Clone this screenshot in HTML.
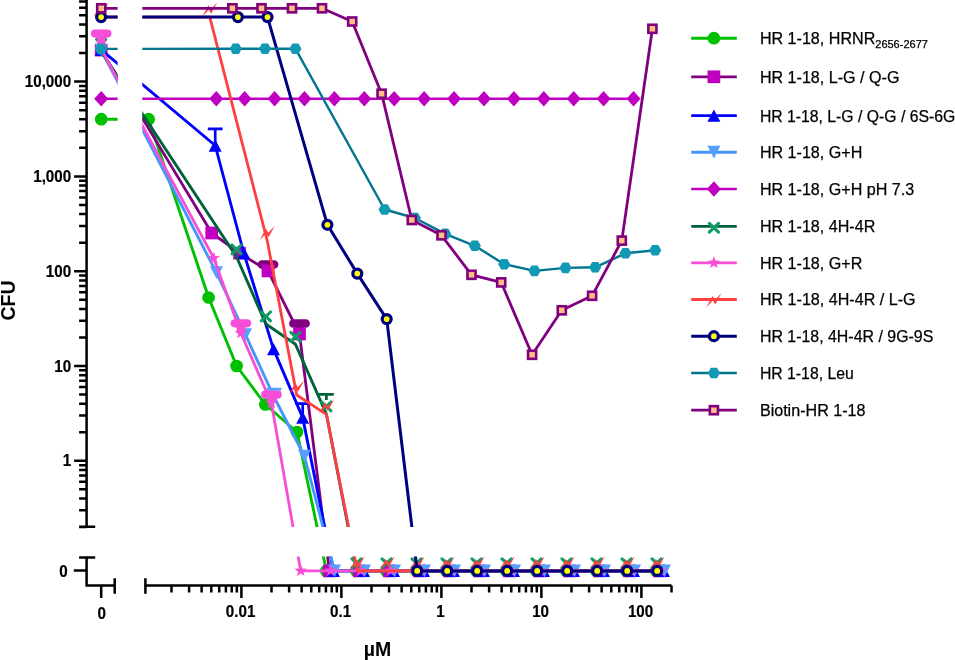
<!DOCTYPE html><html><head><meta charset="utf-8"><style>html,body{margin:0;padding:0;background:#fff;}svg{display:block;}</style></head><body><svg style="will-change:transform" width="955" height="660" viewBox="0 0 955 660"><path d="M86.6,-5V526.8 M79.1,526.8H95.2 M79.1,527.06H86.6 M79.1,510.37H86.6 M79.1,498.52H86.6 M79.1,489.34H86.6 M79.1,481.83H86.6 M79.1,475.48H86.6 M79.1,469.99H86.6 M79.1,465.14H86.6 M74.1,460.80H86.6 M79.1,432.26H86.6 M79.1,415.57H86.6 M79.1,403.72H86.6 M79.1,394.54H86.6 M79.1,387.03H86.6 M79.1,380.68H86.6 M79.1,375.19H86.6 M79.1,370.34H86.6 M74.1,366.00H86.6 M79.1,337.46H86.6 M79.1,320.77H86.6 M79.1,308.92H86.6 M79.1,299.74H86.6 M79.1,292.23H86.6 M79.1,285.88H86.6 M79.1,280.39H86.6 M79.1,275.54H86.6 M74.1,271.20H86.6 M79.1,242.66H86.6 M79.1,225.97H86.6 M79.1,214.12H86.6 M79.1,204.94H86.6 M79.1,197.43H86.6 M79.1,191.08H86.6 M79.1,185.59H86.6 M79.1,180.74H86.6 M74.1,176.40H86.6 M79.1,147.86H86.6 M79.1,131.17H86.6 M79.1,119.32H86.6 M79.1,110.14H86.6 M79.1,102.63H86.6 M79.1,96.28H86.6 M79.1,90.79H86.6 M79.1,85.94H86.6 M74.1,81.60H86.6 M79.1,53.06H86.6 M79.1,36.37H86.6 M79.1,24.52H86.6 M79.1,15.34H86.6 M79.1,7.83H86.6 M79.1,1.48H86.6 M79.1,-4.01H86.6 M86.6,557.5V585.4 M79.1,557.5H95.2 M73.8,570.6H86.6 M85.35,585.4H114.7 M114.7,578.3V593.8 M101.2,585.4V598 M145.4,585.4H671.5 M145.4,578.3V593.8 M171.50,585.4V592.6 M189.11,585.4V592.6 M201.61,585.4V592.6 M211.30,585.4V592.6 M219.22,585.4V592.6 M225.91,585.4V592.6 M231.71,585.4V592.6 M236.82,585.4V592.6 M241.40,585.4V598 M271.50,585.4V592.6 M289.11,585.4V592.6 M301.61,585.4V592.6 M311.30,585.4V592.6 M319.22,585.4V592.6 M325.91,585.4V592.6 M331.71,585.4V592.6 M336.82,585.4V592.6 M341.40,585.4V598 M371.50,585.4V592.6 M389.11,585.4V592.6 M401.61,585.4V592.6 M411.30,585.4V592.6 M419.22,585.4V592.6 M425.91,585.4V592.6 M431.71,585.4V592.6 M436.82,585.4V592.6 M441.40,585.4V598 M471.50,585.4V592.6 M489.11,585.4V592.6 M501.61,585.4V592.6 M511.30,585.4V592.6 M519.22,585.4V592.6 M525.91,585.4V592.6 M531.71,585.4V592.6 M536.82,585.4V592.6 M541.40,585.4V598 M571.50,585.4V592.6 M589.11,585.4V592.6 M601.61,585.4V592.6 M611.30,585.4V592.6 M619.22,585.4V592.6 M625.91,585.4V592.6 M631.71,585.4V592.6 M636.82,585.4V592.6 M641.40,585.4V598 M671.50,585.4V592.6" stroke="#000" stroke-width="2.5" fill="none"/>
<text transform="translate(71.2,466.4) scale(0.95,1)" text-anchor="end" font-family="Liberation Sans" font-weight="bold" font-size="16" fill="#000" stroke="#000" stroke-width="0.2">1</text>
<text transform="translate(71.2,371.6) scale(0.95,1)" text-anchor="end" font-family="Liberation Sans" font-weight="bold" font-size="16" fill="#000" stroke="#000" stroke-width="0.2">10</text>
<text transform="translate(71.2,276.8) scale(0.95,1)" text-anchor="end" font-family="Liberation Sans" font-weight="bold" font-size="16" fill="#000" stroke="#000" stroke-width="0.2">100</text>
<text transform="translate(71.2,182.0) scale(0.95,1)" text-anchor="end" font-family="Liberation Sans" font-weight="bold" font-size="16" fill="#000" stroke="#000" stroke-width="0.2">1,000</text>
<text transform="translate(71.2,87.2) scale(0.95,1)" text-anchor="end" font-family="Liberation Sans" font-weight="bold" font-size="16" fill="#000" stroke="#000" stroke-width="0.2">10,000</text>
<text transform="translate(67.8,577.2) scale(0.95,1)" text-anchor="end" font-family="Liberation Sans" font-weight="bold" font-size="16" fill="#000" stroke="#000" stroke-width="0.2">0</text>
<text transform="translate(101.7,619) scale(0.95,1)" text-anchor="middle" font-family="Liberation Sans" font-weight="bold" font-size="16" fill="#000" stroke="#000" stroke-width="0.2">0</text>
<text transform="translate(240.6,616.5) scale(0.95,1)" text-anchor="middle" font-family="Liberation Sans" font-weight="bold" font-size="16" fill="#000" stroke="#000" stroke-width="0.2">0.01</text>
<text transform="translate(340.6,616.5) scale(0.95,1)" text-anchor="middle" font-family="Liberation Sans" font-weight="bold" font-size="16" fill="#000" stroke="#000" stroke-width="0.2">0.1</text>
<text transform="translate(440.6,616.5) scale(0.95,1)" text-anchor="middle" font-family="Liberation Sans" font-weight="bold" font-size="16" fill="#000" stroke="#000" stroke-width="0.2">1</text>
<text transform="translate(540.6,616.5) scale(0.95,1)" text-anchor="middle" font-family="Liberation Sans" font-weight="bold" font-size="16" fill="#000" stroke="#000" stroke-width="0.2">10</text>
<text transform="translate(640.6,616.5) scale(0.95,1)" text-anchor="middle" font-family="Liberation Sans" font-weight="bold" font-size="16" fill="#000" stroke="#000" stroke-width="0.2">100</text>
<text transform="translate(14.5,300.5) rotate(-90)" text-anchor="middle" font-family="Liberation Sans" font-weight="bold" font-size="19.5">CFU</text>
<text x="377.4" y="656.2" text-anchor="middle" font-family="Liberation Sans" font-weight="bold" font-size="19.5">µM</text>
<defs><clipPath id="clipL"><rect x="60" y="-20" width="57.6" height="547"/></clipPath><clipPath id="clipM"><rect x="142.3" y="-20" width="600" height="547"/></clipPath><clipPath id="clipB"><rect x="142.3" y="556.5" width="600" height="40"/></clipPath></defs>
<g clip-path="url(#clipL)">
<path d="M101.20,119.20 L148.60,119.20 L208.60,297.50 L236.60,366.00 L265.30,404.50 L297.00,432.00 L326.40,570.90 L356.40,570.90 L386.40,570.90 L416.40,570.90 L446.40,570.90 L476.40,570.90 L506.40,570.90 L536.40,570.90 L566.40,570.90 L596.40,570.90 L626.40,570.90 L656.40,570.90" stroke="#00c000" stroke-width="2.9" fill="none" stroke-linejoin="round"/>
<circle cx="101.2" cy="119.2" r="6.35" fill="#00c000"/>
<circle cx="148.6" cy="119.2" r="6.35" fill="#00c000"/>
<circle cx="208.6" cy="297.5" r="6.35" fill="#00c000"/>
<circle cx="236.6" cy="366.0" r="6.35" fill="#00c000"/>
<circle cx="265.3" cy="404.5" r="6.35" fill="#00c000"/>
<circle cx="297.0" cy="432.0" r="6.35" fill="#00c000"/>
<circle cx="326.4" cy="570.9" r="6.35" fill="#00c000"/>
<circle cx="356.4" cy="570.9" r="6.35" fill="#00c000"/>
<circle cx="386.4" cy="570.9" r="6.35" fill="#00c000"/>
<circle cx="416.4" cy="570.9" r="6.35" fill="#00c000"/>
<circle cx="446.4" cy="570.9" r="6.35" fill="#00c000"/>
<circle cx="476.4" cy="570.9" r="6.35" fill="#00c000"/>
<circle cx="506.4" cy="570.9" r="6.35" fill="#00c000"/>
<circle cx="536.4" cy="570.9" r="6.35" fill="#00c000"/>
<circle cx="566.4" cy="570.9" r="6.35" fill="#00c000"/>
<circle cx="596.4" cy="570.9" r="6.35" fill="#00c000"/>
<circle cx="626.4" cy="570.9" r="6.35" fill="#00c000"/>
<circle cx="656.4" cy="570.9" r="6.35" fill="#00c000"/>
</g>
<g clip-path="url(#clipM)">
<path d="M101.20,119.20 L148.60,119.20 L208.60,297.50 L236.60,366.00 L265.30,404.50 L297.00,432.00 L326.40,570.90 L356.40,570.90 L386.40,570.90 L416.40,570.90 L446.40,570.90 L476.40,570.90 L506.40,570.90 L536.40,570.90 L566.40,570.90 L596.40,570.90 L626.40,570.90 L656.40,570.90" stroke="#00c000" stroke-width="2.9" fill="none" stroke-linejoin="round"/>
<circle cx="101.2" cy="119.2" r="6.35" fill="#00c000"/>
<circle cx="148.6" cy="119.2" r="6.35" fill="#00c000"/>
<circle cx="208.6" cy="297.5" r="6.35" fill="#00c000"/>
<circle cx="236.6" cy="366.0" r="6.35" fill="#00c000"/>
<circle cx="265.3" cy="404.5" r="6.35" fill="#00c000"/>
<circle cx="297.0" cy="432.0" r="6.35" fill="#00c000"/>
<circle cx="326.4" cy="570.9" r="6.35" fill="#00c000"/>
<circle cx="356.4" cy="570.9" r="6.35" fill="#00c000"/>
<circle cx="386.4" cy="570.9" r="6.35" fill="#00c000"/>
<circle cx="416.4" cy="570.9" r="6.35" fill="#00c000"/>
<circle cx="446.4" cy="570.9" r="6.35" fill="#00c000"/>
<circle cx="476.4" cy="570.9" r="6.35" fill="#00c000"/>
<circle cx="506.4" cy="570.9" r="6.35" fill="#00c000"/>
<circle cx="536.4" cy="570.9" r="6.35" fill="#00c000"/>
<circle cx="566.4" cy="570.9" r="6.35" fill="#00c000"/>
<circle cx="596.4" cy="570.9" r="6.35" fill="#00c000"/>
<circle cx="626.4" cy="570.9" r="6.35" fill="#00c000"/>
<circle cx="656.4" cy="570.9" r="6.35" fill="#00c000"/>
</g>
<g clip-path="url(#clipB)">
<path d="M101.20,119.20 L148.60,119.20 L208.60,297.50 L236.60,366.00 L265.30,404.50 L297.00,432.00 L326.40,570.90 L356.40,570.90 L386.40,570.90 L416.40,570.90 L446.40,570.90 L476.40,570.90 L506.40,570.90 L536.40,570.90 L566.40,570.90 L596.40,570.90 L626.40,570.90 L656.40,570.90" stroke="#00c000" stroke-width="2.9" fill="none" stroke-linejoin="round"/>
<circle cx="101.2" cy="119.2" r="6.35" fill="#00c000"/>
<circle cx="148.6" cy="119.2" r="6.35" fill="#00c000"/>
<circle cx="208.6" cy="297.5" r="6.35" fill="#00c000"/>
<circle cx="236.6" cy="366.0" r="6.35" fill="#00c000"/>
<circle cx="265.3" cy="404.5" r="6.35" fill="#00c000"/>
<circle cx="297.0" cy="432.0" r="6.35" fill="#00c000"/>
<circle cx="326.4" cy="570.9" r="6.35" fill="#00c000"/>
<circle cx="356.4" cy="570.9" r="6.35" fill="#00c000"/>
<circle cx="386.4" cy="570.9" r="6.35" fill="#00c000"/>
<circle cx="416.4" cy="570.9" r="6.35" fill="#00c000"/>
<circle cx="446.4" cy="570.9" r="6.35" fill="#00c000"/>
<circle cx="476.4" cy="570.9" r="6.35" fill="#00c000"/>
<circle cx="506.4" cy="570.9" r="6.35" fill="#00c000"/>
<circle cx="536.4" cy="570.9" r="6.35" fill="#00c000"/>
<circle cx="566.4" cy="570.9" r="6.35" fill="#00c000"/>
<circle cx="596.4" cy="570.9" r="6.35" fill="#00c000"/>
<circle cx="626.4" cy="570.9" r="6.35" fill="#00c000"/>
<circle cx="656.4" cy="570.9" r="6.35" fill="#00c000"/>
</g>
<g clip-path="url(#clipL)">
<path d="M101.20,50.10 L211.70,233.00 L239.50,253.20 L268.00,270.90 L299.50,334.00 L329.40,570.90 L359.40,570.90 L389.40,570.90 L419.40,570.90 L449.40,570.90 L479.40,570.90 L509.40,570.90 L539.40,570.90 L569.40,570.90 L599.40,570.90 L629.40,570.90 L659.40,570.90" stroke="#800080" stroke-width="2.8" fill="none" stroke-linejoin="round"/>
<rect x="263.75" y="264.40" width="8.5" height="6.50" fill="#800080"/><rect x="257.60" y="260.15" width="20.8" height="8.5" rx="4.25" fill="#800080"/>
<rect x="295.25" y="323.60" width="8.5" height="10.40" fill="#800080"/><rect x="289.10" y="319.35" width="20.8" height="8.5" rx="4.25" fill="#800080"/>
<rect x="94.85" y="43.75" width="12.7" height="12.7" fill="#c000c0"/>
<rect x="205.35" y="226.65" width="12.7" height="12.7" fill="#c000c0"/>
<rect x="233.15" y="246.85" width="12.7" height="12.7" fill="#c000c0"/>
<rect x="261.65" y="264.55" width="12.7" height="12.7" fill="#c000c0"/>
<rect x="293.15" y="327.65" width="12.7" height="12.7" fill="#c000c0"/>
<rect x="323.05" y="564.55" width="12.7" height="12.7" fill="#c000c0"/>
<rect x="353.05" y="564.55" width="12.7" height="12.7" fill="#c000c0"/>
<rect x="383.05" y="564.55" width="12.7" height="12.7" fill="#c000c0"/>
<rect x="413.05" y="564.55" width="12.7" height="12.7" fill="#c000c0"/>
<rect x="443.05" y="564.55" width="12.7" height="12.7" fill="#c000c0"/>
<rect x="473.05" y="564.55" width="12.7" height="12.7" fill="#c000c0"/>
<rect x="503.05" y="564.55" width="12.7" height="12.7" fill="#c000c0"/>
<rect x="533.05" y="564.55" width="12.7" height="12.7" fill="#c000c0"/>
<rect x="563.05" y="564.55" width="12.7" height="12.7" fill="#c000c0"/>
<rect x="593.05" y="564.55" width="12.7" height="12.7" fill="#c000c0"/>
<rect x="623.05" y="564.55" width="12.7" height="12.7" fill="#c000c0"/>
<rect x="653.05" y="564.55" width="12.7" height="12.7" fill="#c000c0"/>
</g>
<g clip-path="url(#clipM)">
<path d="M101.20,50.10 L211.70,233.00 L239.50,253.20 L268.00,270.90 L299.50,334.00 L329.40,570.90 L359.40,570.90 L389.40,570.90 L419.40,570.90 L449.40,570.90 L479.40,570.90 L509.40,570.90 L539.40,570.90 L569.40,570.90 L599.40,570.90 L629.40,570.90 L659.40,570.90" stroke="#800080" stroke-width="2.8" fill="none" stroke-linejoin="round"/>
<rect x="263.75" y="264.40" width="8.5" height="6.50" fill="#800080"/><rect x="257.60" y="260.15" width="20.8" height="8.5" rx="4.25" fill="#800080"/>
<rect x="295.25" y="323.60" width="8.5" height="10.40" fill="#800080"/><rect x="289.10" y="319.35" width="20.8" height="8.5" rx="4.25" fill="#800080"/>
<rect x="94.85" y="43.75" width="12.7" height="12.7" fill="#c000c0"/>
<rect x="205.35" y="226.65" width="12.7" height="12.7" fill="#c000c0"/>
<rect x="233.15" y="246.85" width="12.7" height="12.7" fill="#c000c0"/>
<rect x="261.65" y="264.55" width="12.7" height="12.7" fill="#c000c0"/>
<rect x="293.15" y="327.65" width="12.7" height="12.7" fill="#c000c0"/>
<rect x="323.05" y="564.55" width="12.7" height="12.7" fill="#c000c0"/>
<rect x="353.05" y="564.55" width="12.7" height="12.7" fill="#c000c0"/>
<rect x="383.05" y="564.55" width="12.7" height="12.7" fill="#c000c0"/>
<rect x="413.05" y="564.55" width="12.7" height="12.7" fill="#c000c0"/>
<rect x="443.05" y="564.55" width="12.7" height="12.7" fill="#c000c0"/>
<rect x="473.05" y="564.55" width="12.7" height="12.7" fill="#c000c0"/>
<rect x="503.05" y="564.55" width="12.7" height="12.7" fill="#c000c0"/>
<rect x="533.05" y="564.55" width="12.7" height="12.7" fill="#c000c0"/>
<rect x="563.05" y="564.55" width="12.7" height="12.7" fill="#c000c0"/>
<rect x="593.05" y="564.55" width="12.7" height="12.7" fill="#c000c0"/>
<rect x="623.05" y="564.55" width="12.7" height="12.7" fill="#c000c0"/>
<rect x="653.05" y="564.55" width="12.7" height="12.7" fill="#c000c0"/>
</g>
<g clip-path="url(#clipB)">
<path d="M101.20,50.10 L211.70,233.00 L239.50,253.20 L268.00,270.90 L299.50,334.00 L329.40,570.90 L359.40,570.90 L389.40,570.90 L419.40,570.90 L449.40,570.90 L479.40,570.90 L509.40,570.90 L539.40,570.90 L569.40,570.90 L599.40,570.90 L629.40,570.90 L659.40,570.90" stroke="#800080" stroke-width="2.8" fill="none" stroke-linejoin="round"/>
<rect x="263.75" y="264.40" width="8.5" height="6.50" fill="#800080"/><rect x="257.60" y="260.15" width="20.8" height="8.5" rx="4.25" fill="#800080"/>
<rect x="295.25" y="323.60" width="8.5" height="10.40" fill="#800080"/><rect x="289.10" y="319.35" width="20.8" height="8.5" rx="4.25" fill="#800080"/>
<rect x="94.85" y="43.75" width="12.7" height="12.7" fill="#c000c0"/>
<rect x="205.35" y="226.65" width="12.7" height="12.7" fill="#c000c0"/>
<rect x="233.15" y="246.85" width="12.7" height="12.7" fill="#c000c0"/>
<rect x="261.65" y="264.55" width="12.7" height="12.7" fill="#c000c0"/>
<rect x="293.15" y="327.65" width="12.7" height="12.7" fill="#c000c0"/>
<rect x="323.05" y="564.55" width="12.7" height="12.7" fill="#c000c0"/>
<rect x="353.05" y="564.55" width="12.7" height="12.7" fill="#c000c0"/>
<rect x="383.05" y="564.55" width="12.7" height="12.7" fill="#c000c0"/>
<rect x="413.05" y="564.55" width="12.7" height="12.7" fill="#c000c0"/>
<rect x="443.05" y="564.55" width="12.7" height="12.7" fill="#c000c0"/>
<rect x="473.05" y="564.55" width="12.7" height="12.7" fill="#c000c0"/>
<rect x="503.05" y="564.55" width="12.7" height="12.7" fill="#c000c0"/>
<rect x="533.05" y="564.55" width="12.7" height="12.7" fill="#c000c0"/>
<rect x="563.05" y="564.55" width="12.7" height="12.7" fill="#c000c0"/>
<rect x="593.05" y="564.55" width="12.7" height="12.7" fill="#c000c0"/>
<rect x="623.05" y="564.55" width="12.7" height="12.7" fill="#c000c0"/>
<rect x="653.05" y="564.55" width="12.7" height="12.7" fill="#c000c0"/>
</g>
<g clip-path="url(#clipL)">
<path d="M101.20,49.80 L215.20,145.50 L243.80,253.00 L273.50,349.10 L302.70,417.60 L333.50,570.90 L363.50,570.90 L393.50,570.90 L423.50,570.90 L453.50,570.90 L483.50,570.90 L513.50,570.90 L543.50,570.90 L573.50,570.90 L603.50,570.90 L633.50,570.90 L663.50,570.90" stroke="#0000ff" stroke-width="2.9" fill="none" stroke-linejoin="round"/>
<path d="M215.20,145.50V128.80M207.80,128.80H222.60" stroke="#0000ff" stroke-width="2.7" fill="none"/>
<path d="M302.70,417.60V403.60M295.30,403.60H310.10" stroke="#0000ff" stroke-width="2.7" fill="none"/>
<polygon points="101.20,43.60 107.70,56.00 94.70,56.00" fill="#0000ff"/>
<polygon points="215.20,139.30 221.70,151.70 208.70,151.70" fill="#0000ff"/>
<polygon points="243.80,246.80 250.30,259.20 237.30,259.20" fill="#0000ff"/>
<polygon points="273.50,342.90 280.00,355.30 267.00,355.30" fill="#0000ff"/>
<polygon points="302.70,411.40 309.20,423.80 296.20,423.80" fill="#0000ff"/>
<polygon points="333.50,564.70 340.00,577.10 327.00,577.10" fill="#0000ff"/>
<polygon points="363.50,564.70 370.00,577.10 357.00,577.10" fill="#0000ff"/>
<polygon points="393.50,564.70 400.00,577.10 387.00,577.10" fill="#0000ff"/>
<polygon points="423.50,564.70 430.00,577.10 417.00,577.10" fill="#0000ff"/>
<polygon points="453.50,564.70 460.00,577.10 447.00,577.10" fill="#0000ff"/>
<polygon points="483.50,564.70 490.00,577.10 477.00,577.10" fill="#0000ff"/>
<polygon points="513.50,564.70 520.00,577.10 507.00,577.10" fill="#0000ff"/>
<polygon points="543.50,564.70 550.00,577.10 537.00,577.10" fill="#0000ff"/>
<polygon points="573.50,564.70 580.00,577.10 567.00,577.10" fill="#0000ff"/>
<polygon points="603.50,564.70 610.00,577.10 597.00,577.10" fill="#0000ff"/>
<polygon points="633.50,564.70 640.00,577.10 627.00,577.10" fill="#0000ff"/>
<polygon points="663.50,564.70 670.00,577.10 657.00,577.10" fill="#0000ff"/>
</g>
<g clip-path="url(#clipM)">
<path d="M101.20,49.80 L215.20,145.50 L243.80,253.00 L273.50,349.10 L302.70,417.60 L333.50,570.90 L363.50,570.90 L393.50,570.90 L423.50,570.90 L453.50,570.90 L483.50,570.90 L513.50,570.90 L543.50,570.90 L573.50,570.90 L603.50,570.90 L633.50,570.90 L663.50,570.90" stroke="#0000ff" stroke-width="2.9" fill="none" stroke-linejoin="round"/>
<path d="M215.20,145.50V128.80M207.80,128.80H222.60" stroke="#0000ff" stroke-width="2.7" fill="none"/>
<path d="M302.70,417.60V403.60M295.30,403.60H310.10" stroke="#0000ff" stroke-width="2.7" fill="none"/>
<polygon points="101.20,43.60 107.70,56.00 94.70,56.00" fill="#0000ff"/>
<polygon points="215.20,139.30 221.70,151.70 208.70,151.70" fill="#0000ff"/>
<polygon points="243.80,246.80 250.30,259.20 237.30,259.20" fill="#0000ff"/>
<polygon points="273.50,342.90 280.00,355.30 267.00,355.30" fill="#0000ff"/>
<polygon points="302.70,411.40 309.20,423.80 296.20,423.80" fill="#0000ff"/>
<polygon points="333.50,564.70 340.00,577.10 327.00,577.10" fill="#0000ff"/>
<polygon points="363.50,564.70 370.00,577.10 357.00,577.10" fill="#0000ff"/>
<polygon points="393.50,564.70 400.00,577.10 387.00,577.10" fill="#0000ff"/>
<polygon points="423.50,564.70 430.00,577.10 417.00,577.10" fill="#0000ff"/>
<polygon points="453.50,564.70 460.00,577.10 447.00,577.10" fill="#0000ff"/>
<polygon points="483.50,564.70 490.00,577.10 477.00,577.10" fill="#0000ff"/>
<polygon points="513.50,564.70 520.00,577.10 507.00,577.10" fill="#0000ff"/>
<polygon points="543.50,564.70 550.00,577.10 537.00,577.10" fill="#0000ff"/>
<polygon points="573.50,564.70 580.00,577.10 567.00,577.10" fill="#0000ff"/>
<polygon points="603.50,564.70 610.00,577.10 597.00,577.10" fill="#0000ff"/>
<polygon points="633.50,564.70 640.00,577.10 627.00,577.10" fill="#0000ff"/>
<polygon points="663.50,564.70 670.00,577.10 657.00,577.10" fill="#0000ff"/>
</g>
<g clip-path="url(#clipB)">
<path d="M101.20,49.80 L215.20,145.50 L243.80,253.00 L273.50,349.10 L302.70,417.60 L333.50,570.90 L363.50,570.90 L393.50,570.90 L423.50,570.90 L453.50,570.90 L483.50,570.90 L513.50,570.90 L543.50,570.90 L573.50,570.90 L603.50,570.90 L633.50,570.90 L663.50,570.90" stroke="#0000ff" stroke-width="2.9" fill="none" stroke-linejoin="round"/>
<path d="M215.20,145.50V128.80M207.80,128.80H222.60" stroke="#0000ff" stroke-width="2.7" fill="none"/>
<path d="M302.70,417.60V403.60M295.30,403.60H310.10" stroke="#0000ff" stroke-width="2.7" fill="none"/>
<polygon points="101.20,43.60 107.70,56.00 94.70,56.00" fill="#0000ff"/>
<polygon points="215.20,139.30 221.70,151.70 208.70,151.70" fill="#0000ff"/>
<polygon points="243.80,246.80 250.30,259.20 237.30,259.20" fill="#0000ff"/>
<polygon points="273.50,342.90 280.00,355.30 267.00,355.30" fill="#0000ff"/>
<polygon points="302.70,411.40 309.20,423.80 296.20,423.80" fill="#0000ff"/>
<polygon points="333.50,564.70 340.00,577.10 327.00,577.10" fill="#0000ff"/>
<polygon points="363.50,564.70 370.00,577.10 357.00,577.10" fill="#0000ff"/>
<polygon points="393.50,564.70 400.00,577.10 387.00,577.10" fill="#0000ff"/>
<polygon points="423.50,564.70 430.00,577.10 417.00,577.10" fill="#0000ff"/>
<polygon points="453.50,564.70 460.00,577.10 447.00,577.10" fill="#0000ff"/>
<polygon points="483.50,564.70 490.00,577.10 477.00,577.10" fill="#0000ff"/>
<polygon points="513.50,564.70 520.00,577.10 507.00,577.10" fill="#0000ff"/>
<polygon points="543.50,564.70 550.00,577.10 537.00,577.10" fill="#0000ff"/>
<polygon points="573.50,564.70 580.00,577.10 567.00,577.10" fill="#0000ff"/>
<polygon points="603.50,564.70 610.00,577.10 597.00,577.10" fill="#0000ff"/>
<polygon points="633.50,564.70 640.00,577.10 627.00,577.10" fill="#0000ff"/>
<polygon points="663.50,564.70 670.00,577.10 657.00,577.10" fill="#0000ff"/>
</g>
<g clip-path="url(#clipL)">
<path d="M101.20,50.00 L216.50,272.70 L245.50,334.70 L274.00,397.00 L304.40,456.00 L334.50,570.90 L364.50,570.90 L394.50,570.90 L424.50,570.90 L454.50,570.90 L484.50,570.90 L514.50,570.90 L544.50,570.90 L574.50,570.90 L604.50,570.90 L634.50,570.90 L664.50,570.90" stroke="#4696fa" stroke-width="2.9" fill="none" stroke-linejoin="round"/>
<path d="M274.00,397.00V389.10M266.60,389.10H281.40" stroke="#55a0ff" stroke-width="2.7" fill="none"/>
<polygon points="101.20,56.35 107.70,43.65 94.70,43.65" fill="#55a0ff"/>
<polygon points="216.50,279.05 223.00,266.35 210.00,266.35" fill="#55a0ff"/>
<polygon points="245.50,341.05 252.00,328.35 239.00,328.35" fill="#55a0ff"/>
<polygon points="274.00,403.35 280.50,390.65 267.50,390.65" fill="#55a0ff"/>
<polygon points="304.40,462.35 310.90,449.65 297.90,449.65" fill="#55a0ff"/>
<polygon points="334.50,577.25 341.00,564.55 328.00,564.55" fill="#55a0ff"/>
<polygon points="364.50,577.25 371.00,564.55 358.00,564.55" fill="#55a0ff"/>
<polygon points="394.50,577.25 401.00,564.55 388.00,564.55" fill="#55a0ff"/>
<polygon points="424.50,577.25 431.00,564.55 418.00,564.55" fill="#55a0ff"/>
<polygon points="454.50,577.25 461.00,564.55 448.00,564.55" fill="#55a0ff"/>
<polygon points="484.50,577.25 491.00,564.55 478.00,564.55" fill="#55a0ff"/>
<polygon points="514.50,577.25 521.00,564.55 508.00,564.55" fill="#55a0ff"/>
<polygon points="544.50,577.25 551.00,564.55 538.00,564.55" fill="#55a0ff"/>
<polygon points="574.50,577.25 581.00,564.55 568.00,564.55" fill="#55a0ff"/>
<polygon points="604.50,577.25 611.00,564.55 598.00,564.55" fill="#55a0ff"/>
<polygon points="634.50,577.25 641.00,564.55 628.00,564.55" fill="#55a0ff"/>
<polygon points="664.50,577.25 671.00,564.55 658.00,564.55" fill="#55a0ff"/>
</g>
<g clip-path="url(#clipM)">
<path d="M101.20,50.00 L216.50,272.70 L245.50,334.70 L274.00,397.00 L304.40,456.00 L334.50,570.90 L364.50,570.90 L394.50,570.90 L424.50,570.90 L454.50,570.90 L484.50,570.90 L514.50,570.90 L544.50,570.90 L574.50,570.90 L604.50,570.90 L634.50,570.90 L664.50,570.90" stroke="#4696fa" stroke-width="2.9" fill="none" stroke-linejoin="round"/>
<path d="M274.00,397.00V389.10M266.60,389.10H281.40" stroke="#55a0ff" stroke-width="2.7" fill="none"/>
<polygon points="101.20,56.35 107.70,43.65 94.70,43.65" fill="#55a0ff"/>
<polygon points="216.50,279.05 223.00,266.35 210.00,266.35" fill="#55a0ff"/>
<polygon points="245.50,341.05 252.00,328.35 239.00,328.35" fill="#55a0ff"/>
<polygon points="274.00,403.35 280.50,390.65 267.50,390.65" fill="#55a0ff"/>
<polygon points="304.40,462.35 310.90,449.65 297.90,449.65" fill="#55a0ff"/>
<polygon points="334.50,577.25 341.00,564.55 328.00,564.55" fill="#55a0ff"/>
<polygon points="364.50,577.25 371.00,564.55 358.00,564.55" fill="#55a0ff"/>
<polygon points="394.50,577.25 401.00,564.55 388.00,564.55" fill="#55a0ff"/>
<polygon points="424.50,577.25 431.00,564.55 418.00,564.55" fill="#55a0ff"/>
<polygon points="454.50,577.25 461.00,564.55 448.00,564.55" fill="#55a0ff"/>
<polygon points="484.50,577.25 491.00,564.55 478.00,564.55" fill="#55a0ff"/>
<polygon points="514.50,577.25 521.00,564.55 508.00,564.55" fill="#55a0ff"/>
<polygon points="544.50,577.25 551.00,564.55 538.00,564.55" fill="#55a0ff"/>
<polygon points="574.50,577.25 581.00,564.55 568.00,564.55" fill="#55a0ff"/>
<polygon points="604.50,577.25 611.00,564.55 598.00,564.55" fill="#55a0ff"/>
<polygon points="634.50,577.25 641.00,564.55 628.00,564.55" fill="#55a0ff"/>
<polygon points="664.50,577.25 671.00,564.55 658.00,564.55" fill="#55a0ff"/>
</g>
<g clip-path="url(#clipB)">
<path d="M101.20,50.00 L216.50,272.70 L245.50,334.70 L274.00,397.00 L304.40,456.00 L334.50,570.90 L364.50,570.90 L394.50,570.90 L424.50,570.90 L454.50,570.90 L484.50,570.90 L514.50,570.90 L544.50,570.90 L574.50,570.90 L604.50,570.90 L634.50,570.90 L664.50,570.90" stroke="#4696fa" stroke-width="2.9" fill="none" stroke-linejoin="round"/>
<path d="M274.00,397.00V389.10M266.60,389.10H281.40" stroke="#55a0ff" stroke-width="2.7" fill="none"/>
<polygon points="101.20,56.35 107.70,43.65 94.70,43.65" fill="#55a0ff"/>
<polygon points="216.50,279.05 223.00,266.35 210.00,266.35" fill="#55a0ff"/>
<polygon points="245.50,341.05 252.00,328.35 239.00,328.35" fill="#55a0ff"/>
<polygon points="274.00,403.35 280.50,390.65 267.50,390.65" fill="#55a0ff"/>
<polygon points="304.40,462.35 310.90,449.65 297.90,449.65" fill="#55a0ff"/>
<polygon points="334.50,577.25 341.00,564.55 328.00,564.55" fill="#55a0ff"/>
<polygon points="364.50,577.25 371.00,564.55 358.00,564.55" fill="#55a0ff"/>
<polygon points="394.50,577.25 401.00,564.55 388.00,564.55" fill="#55a0ff"/>
<polygon points="424.50,577.25 431.00,564.55 418.00,564.55" fill="#55a0ff"/>
<polygon points="454.50,577.25 461.00,564.55 448.00,564.55" fill="#55a0ff"/>
<polygon points="484.50,577.25 491.00,564.55 478.00,564.55" fill="#55a0ff"/>
<polygon points="514.50,577.25 521.00,564.55 508.00,564.55" fill="#55a0ff"/>
<polygon points="544.50,577.25 551.00,564.55 538.00,564.55" fill="#55a0ff"/>
<polygon points="574.50,577.25 581.00,564.55 568.00,564.55" fill="#55a0ff"/>
<polygon points="604.50,577.25 611.00,564.55 598.00,564.55" fill="#55a0ff"/>
<polygon points="634.50,577.25 641.00,564.55 628.00,564.55" fill="#55a0ff"/>
<polygon points="664.50,577.25 671.00,564.55 658.00,564.55" fill="#55a0ff"/>
</g>
<g clip-path="url(#clipL)">
<path d="M101.20,98.75 L216.30,98.75 L244.63,98.75 L274.55,98.75 L304.46,98.75 L334.38,98.75 L364.29,98.75 L394.20,98.75 L424.12,98.75 L454.03,98.75 L483.95,98.75 L513.86,98.75 L543.77,98.75 L573.69,98.75 L603.60,98.75 L633.52,98.75" stroke="#c000c0" stroke-width="2.6" fill="none" stroke-linejoin="round"/>
<polygon points="101.20,91.05 108.20,98.75 101.20,106.45 94.20,98.75" fill="#c000c0"/>
<polygon points="216.30,91.05 223.30,98.75 216.30,106.45 209.30,98.75" fill="#c000c0"/>
<polygon points="244.63,91.05 251.63,98.75 244.63,106.45 237.63,98.75" fill="#c000c0"/>
<polygon points="274.55,91.05 281.55,98.75 274.55,106.45 267.55,98.75" fill="#c000c0"/>
<polygon points="304.46,91.05 311.46,98.75 304.46,106.45 297.46,98.75" fill="#c000c0"/>
<polygon points="334.38,91.05 341.38,98.75 334.38,106.45 327.38,98.75" fill="#c000c0"/>
<polygon points="364.29,91.05 371.29,98.75 364.29,106.45 357.29,98.75" fill="#c000c0"/>
<polygon points="394.20,91.05 401.20,98.75 394.20,106.45 387.20,98.75" fill="#c000c0"/>
<polygon points="424.12,91.05 431.12,98.75 424.12,106.45 417.12,98.75" fill="#c000c0"/>
<polygon points="454.03,91.05 461.03,98.75 454.03,106.45 447.03,98.75" fill="#c000c0"/>
<polygon points="483.95,91.05 490.95,98.75 483.95,106.45 476.95,98.75" fill="#c000c0"/>
<polygon points="513.86,91.05 520.86,98.75 513.86,106.45 506.86,98.75" fill="#c000c0"/>
<polygon points="543.77,91.05 550.77,98.75 543.77,106.45 536.77,98.75" fill="#c000c0"/>
<polygon points="573.69,91.05 580.69,98.75 573.69,106.45 566.69,98.75" fill="#c000c0"/>
<polygon points="603.60,91.05 610.60,98.75 603.60,106.45 596.60,98.75" fill="#c000c0"/>
<polygon points="633.52,91.05 640.52,98.75 633.52,106.45 626.52,98.75" fill="#c000c0"/>
</g>
<g clip-path="url(#clipM)">
<path d="M101.20,98.75 L216.30,98.75 L244.63,98.75 L274.55,98.75 L304.46,98.75 L334.38,98.75 L364.29,98.75 L394.20,98.75 L424.12,98.75 L454.03,98.75 L483.95,98.75 L513.86,98.75 L543.77,98.75 L573.69,98.75 L603.60,98.75 L633.52,98.75" stroke="#c000c0" stroke-width="2.6" fill="none" stroke-linejoin="round"/>
<polygon points="101.20,91.05 108.20,98.75 101.20,106.45 94.20,98.75" fill="#c000c0"/>
<polygon points="216.30,91.05 223.30,98.75 216.30,106.45 209.30,98.75" fill="#c000c0"/>
<polygon points="244.63,91.05 251.63,98.75 244.63,106.45 237.63,98.75" fill="#c000c0"/>
<polygon points="274.55,91.05 281.55,98.75 274.55,106.45 267.55,98.75" fill="#c000c0"/>
<polygon points="304.46,91.05 311.46,98.75 304.46,106.45 297.46,98.75" fill="#c000c0"/>
<polygon points="334.38,91.05 341.38,98.75 334.38,106.45 327.38,98.75" fill="#c000c0"/>
<polygon points="364.29,91.05 371.29,98.75 364.29,106.45 357.29,98.75" fill="#c000c0"/>
<polygon points="394.20,91.05 401.20,98.75 394.20,106.45 387.20,98.75" fill="#c000c0"/>
<polygon points="424.12,91.05 431.12,98.75 424.12,106.45 417.12,98.75" fill="#c000c0"/>
<polygon points="454.03,91.05 461.03,98.75 454.03,106.45 447.03,98.75" fill="#c000c0"/>
<polygon points="483.95,91.05 490.95,98.75 483.95,106.45 476.95,98.75" fill="#c000c0"/>
<polygon points="513.86,91.05 520.86,98.75 513.86,106.45 506.86,98.75" fill="#c000c0"/>
<polygon points="543.77,91.05 550.77,98.75 543.77,106.45 536.77,98.75" fill="#c000c0"/>
<polygon points="573.69,91.05 580.69,98.75 573.69,106.45 566.69,98.75" fill="#c000c0"/>
<polygon points="603.60,91.05 610.60,98.75 603.60,106.45 596.60,98.75" fill="#c000c0"/>
<polygon points="633.52,91.05 640.52,98.75 633.52,106.45 626.52,98.75" fill="#c000c0"/>
</g>
<g clip-path="url(#clipB)">
<path d="M101.20,98.75 L216.30,98.75 L244.63,98.75 L274.55,98.75 L304.46,98.75 L334.38,98.75 L364.29,98.75 L394.20,98.75 L424.12,98.75 L454.03,98.75 L483.95,98.75 L513.86,98.75 L543.77,98.75 L573.69,98.75 L603.60,98.75 L633.52,98.75" stroke="#c000c0" stroke-width="2.6" fill="none" stroke-linejoin="round"/>
<polygon points="101.20,91.05 108.20,98.75 101.20,106.45 94.20,98.75" fill="#c000c0"/>
<polygon points="216.30,91.05 223.30,98.75 216.30,106.45 209.30,98.75" fill="#c000c0"/>
<polygon points="244.63,91.05 251.63,98.75 244.63,106.45 237.63,98.75" fill="#c000c0"/>
<polygon points="274.55,91.05 281.55,98.75 274.55,106.45 267.55,98.75" fill="#c000c0"/>
<polygon points="304.46,91.05 311.46,98.75 304.46,106.45 297.46,98.75" fill="#c000c0"/>
<polygon points="334.38,91.05 341.38,98.75 334.38,106.45 327.38,98.75" fill="#c000c0"/>
<polygon points="364.29,91.05 371.29,98.75 364.29,106.45 357.29,98.75" fill="#c000c0"/>
<polygon points="394.20,91.05 401.20,98.75 394.20,106.45 387.20,98.75" fill="#c000c0"/>
<polygon points="424.12,91.05 431.12,98.75 424.12,106.45 417.12,98.75" fill="#c000c0"/>
<polygon points="454.03,91.05 461.03,98.75 454.03,106.45 447.03,98.75" fill="#c000c0"/>
<polygon points="483.95,91.05 490.95,98.75 483.95,106.45 476.95,98.75" fill="#c000c0"/>
<polygon points="513.86,91.05 520.86,98.75 513.86,106.45 506.86,98.75" fill="#c000c0"/>
<polygon points="543.77,91.05 550.77,98.75 543.77,106.45 536.77,98.75" fill="#c000c0"/>
<polygon points="573.69,91.05 580.69,98.75 573.69,106.45 566.69,98.75" fill="#c000c0"/>
<polygon points="603.60,91.05 610.60,98.75 603.60,106.45 596.60,98.75" fill="#c000c0"/>
<polygon points="633.52,91.05 640.52,98.75 633.52,106.45 626.52,98.75" fill="#c000c0"/>
</g>
<g clip-path="url(#clipL)">
<path d="M101.20,51.50 L236.60,257.00 L265.90,324.00 L295.50,344.30 L326.40,414.00 L356.60,570.90 L386.60,570.90 L416.60,570.90 L446.60,570.90 L476.60,570.90 L506.60,570.90 L536.60,570.90 L566.60,570.90 L596.60,570.90 L626.60,570.90 L656.60,570.90" stroke="#00623a" stroke-width="2.9" fill="none" stroke-linejoin="round"/>
<path d="M326.40,400.00V394.40M319.00,394.40H333.80" stroke="#00623a" stroke-width="2.7" fill="none"/>
<path d="M96.60,39.50L105.80,48.30M96.60,48.30L105.80,39.50" stroke="#109b64" stroke-width="3.1" stroke-linecap="round" fill="none"/>
<path d="M232.00,245.00L241.20,253.80M232.00,253.80L241.20,245.00" stroke="#109b64" stroke-width="3.1" stroke-linecap="round" fill="none"/>
<path d="M261.30,312.00L270.50,320.80M261.30,320.80L270.50,312.00" stroke="#109b64" stroke-width="3.1" stroke-linecap="round" fill="none"/>
<path d="M290.90,332.30L300.10,341.10M290.90,341.10L300.10,332.30" stroke="#109b64" stroke-width="3.1" stroke-linecap="round" fill="none"/>
<path d="M321.80,402.00L331.00,410.80M321.80,410.80L331.00,402.00" stroke="#109b64" stroke-width="3.1" stroke-linecap="round" fill="none"/>
<path d="M352.00,558.90L361.20,567.70M352.00,567.70L361.20,558.90" stroke="#109b64" stroke-width="3.1" stroke-linecap="round" fill="none"/>
<path d="M382.00,558.90L391.20,567.70M382.00,567.70L391.20,558.90" stroke="#109b64" stroke-width="3.1" stroke-linecap="round" fill="none"/>
<path d="M412.00,558.90L421.20,567.70M412.00,567.70L421.20,558.90" stroke="#109b64" stroke-width="3.1" stroke-linecap="round" fill="none"/>
<path d="M442.00,558.90L451.20,567.70M442.00,567.70L451.20,558.90" stroke="#109b64" stroke-width="3.1" stroke-linecap="round" fill="none"/>
<path d="M472.00,558.90L481.20,567.70M472.00,567.70L481.20,558.90" stroke="#109b64" stroke-width="3.1" stroke-linecap="round" fill="none"/>
<path d="M502.00,558.90L511.20,567.70M502.00,567.70L511.20,558.90" stroke="#109b64" stroke-width="3.1" stroke-linecap="round" fill="none"/>
<path d="M532.00,558.90L541.20,567.70M532.00,567.70L541.20,558.90" stroke="#109b64" stroke-width="3.1" stroke-linecap="round" fill="none"/>
<path d="M562.00,558.90L571.20,567.70M562.00,567.70L571.20,558.90" stroke="#109b64" stroke-width="3.1" stroke-linecap="round" fill="none"/>
<path d="M592.00,558.90L601.20,567.70M592.00,567.70L601.20,558.90" stroke="#109b64" stroke-width="3.1" stroke-linecap="round" fill="none"/>
<path d="M622.00,558.90L631.20,567.70M622.00,567.70L631.20,558.90" stroke="#109b64" stroke-width="3.1" stroke-linecap="round" fill="none"/>
<path d="M652.00,558.90L661.20,567.70M652.00,567.70L661.20,558.90" stroke="#109b64" stroke-width="3.1" stroke-linecap="round" fill="none"/>
</g>
<g clip-path="url(#clipM)">
<path d="M101.20,51.50 L236.60,257.00 L265.90,324.00 L295.50,344.30 L326.40,414.00 L356.60,570.90 L386.60,570.90 L416.60,570.90 L446.60,570.90 L476.60,570.90 L506.60,570.90 L536.60,570.90 L566.60,570.90 L596.60,570.90 L626.60,570.90 L656.60,570.90" stroke="#00623a" stroke-width="2.9" fill="none" stroke-linejoin="round"/>
<path d="M326.40,400.00V394.40M319.00,394.40H333.80" stroke="#00623a" stroke-width="2.7" fill="none"/>
<path d="M96.60,39.50L105.80,48.30M96.60,48.30L105.80,39.50" stroke="#109b64" stroke-width="3.1" stroke-linecap="round" fill="none"/>
<path d="M232.00,245.00L241.20,253.80M232.00,253.80L241.20,245.00" stroke="#109b64" stroke-width="3.1" stroke-linecap="round" fill="none"/>
<path d="M261.30,312.00L270.50,320.80M261.30,320.80L270.50,312.00" stroke="#109b64" stroke-width="3.1" stroke-linecap="round" fill="none"/>
<path d="M290.90,332.30L300.10,341.10M290.90,341.10L300.10,332.30" stroke="#109b64" stroke-width="3.1" stroke-linecap="round" fill="none"/>
<path d="M321.80,402.00L331.00,410.80M321.80,410.80L331.00,402.00" stroke="#109b64" stroke-width="3.1" stroke-linecap="round" fill="none"/>
<path d="M352.00,558.90L361.20,567.70M352.00,567.70L361.20,558.90" stroke="#109b64" stroke-width="3.1" stroke-linecap="round" fill="none"/>
<path d="M382.00,558.90L391.20,567.70M382.00,567.70L391.20,558.90" stroke="#109b64" stroke-width="3.1" stroke-linecap="round" fill="none"/>
<path d="M412.00,558.90L421.20,567.70M412.00,567.70L421.20,558.90" stroke="#109b64" stroke-width="3.1" stroke-linecap="round" fill="none"/>
<path d="M442.00,558.90L451.20,567.70M442.00,567.70L451.20,558.90" stroke="#109b64" stroke-width="3.1" stroke-linecap="round" fill="none"/>
<path d="M472.00,558.90L481.20,567.70M472.00,567.70L481.20,558.90" stroke="#109b64" stroke-width="3.1" stroke-linecap="round" fill="none"/>
<path d="M502.00,558.90L511.20,567.70M502.00,567.70L511.20,558.90" stroke="#109b64" stroke-width="3.1" stroke-linecap="round" fill="none"/>
<path d="M532.00,558.90L541.20,567.70M532.00,567.70L541.20,558.90" stroke="#109b64" stroke-width="3.1" stroke-linecap="round" fill="none"/>
<path d="M562.00,558.90L571.20,567.70M562.00,567.70L571.20,558.90" stroke="#109b64" stroke-width="3.1" stroke-linecap="round" fill="none"/>
<path d="M592.00,558.90L601.20,567.70M592.00,567.70L601.20,558.90" stroke="#109b64" stroke-width="3.1" stroke-linecap="round" fill="none"/>
<path d="M622.00,558.90L631.20,567.70M622.00,567.70L631.20,558.90" stroke="#109b64" stroke-width="3.1" stroke-linecap="round" fill="none"/>
<path d="M652.00,558.90L661.20,567.70M652.00,567.70L661.20,558.90" stroke="#109b64" stroke-width="3.1" stroke-linecap="round" fill="none"/>
</g>
<g clip-path="url(#clipB)">
<path d="M101.20,51.50 L236.60,257.00 L265.90,324.00 L295.50,344.30 L326.40,414.00 L356.60,570.90 L386.60,570.90 L416.60,570.90 L446.60,570.90 L476.60,570.90 L506.60,570.90 L536.60,570.90 L566.60,570.90 L596.60,570.90 L626.60,570.90 L656.60,570.90" stroke="#00623a" stroke-width="2.9" fill="none" stroke-linejoin="round"/>
<path d="M326.40,400.00V394.40M319.00,394.40H333.80" stroke="#00623a" stroke-width="2.7" fill="none"/>
<path d="M96.60,39.50L105.80,48.30M96.60,48.30L105.80,39.50" stroke="#109b64" stroke-width="3.1" stroke-linecap="round" fill="none"/>
<path d="M232.00,245.00L241.20,253.80M232.00,253.80L241.20,245.00" stroke="#109b64" stroke-width="3.1" stroke-linecap="round" fill="none"/>
<path d="M261.30,312.00L270.50,320.80M261.30,320.80L270.50,312.00" stroke="#109b64" stroke-width="3.1" stroke-linecap="round" fill="none"/>
<path d="M290.90,332.30L300.10,341.10M290.90,341.10L300.10,332.30" stroke="#109b64" stroke-width="3.1" stroke-linecap="round" fill="none"/>
<path d="M321.80,402.00L331.00,410.80M321.80,410.80L331.00,402.00" stroke="#109b64" stroke-width="3.1" stroke-linecap="round" fill="none"/>
<path d="M352.00,558.90L361.20,567.70M352.00,567.70L361.20,558.90" stroke="#109b64" stroke-width="3.1" stroke-linecap="round" fill="none"/>
<path d="M382.00,558.90L391.20,567.70M382.00,567.70L391.20,558.90" stroke="#109b64" stroke-width="3.1" stroke-linecap="round" fill="none"/>
<path d="M412.00,558.90L421.20,567.70M412.00,567.70L421.20,558.90" stroke="#109b64" stroke-width="3.1" stroke-linecap="round" fill="none"/>
<path d="M442.00,558.90L451.20,567.70M442.00,567.70L451.20,558.90" stroke="#109b64" stroke-width="3.1" stroke-linecap="round" fill="none"/>
<path d="M472.00,558.90L481.20,567.70M472.00,567.70L481.20,558.90" stroke="#109b64" stroke-width="3.1" stroke-linecap="round" fill="none"/>
<path d="M502.00,558.90L511.20,567.70M502.00,567.70L511.20,558.90" stroke="#109b64" stroke-width="3.1" stroke-linecap="round" fill="none"/>
<path d="M532.00,558.90L541.20,567.70M532.00,567.70L541.20,558.90" stroke="#109b64" stroke-width="3.1" stroke-linecap="round" fill="none"/>
<path d="M562.00,558.90L571.20,567.70M562.00,567.70L571.20,558.90" stroke="#109b64" stroke-width="3.1" stroke-linecap="round" fill="none"/>
<path d="M592.00,558.90L601.20,567.70M592.00,567.70L601.20,558.90" stroke="#109b64" stroke-width="3.1" stroke-linecap="round" fill="none"/>
<path d="M622.00,558.90L631.20,567.70M622.00,567.70L631.20,558.90" stroke="#109b64" stroke-width="3.1" stroke-linecap="round" fill="none"/>
<path d="M652.00,558.90L661.20,567.70M652.00,567.70L661.20,558.90" stroke="#109b64" stroke-width="3.1" stroke-linecap="round" fill="none"/>
</g>
<g clip-path="url(#clipL)">
<path d="M101.20,49.00 L213.80,258.30 L240.90,333.20 L271.40,403.00 L300.70,570.90 L330.70,570.90 L360.70,570.90 L390.70,570.90 L420.70,570.90 L450.70,570.90 L480.70,570.90 L510.70,570.90 L540.70,570.90 L570.70,570.90 L600.70,570.90 L630.70,570.90 L660.70,570.90" stroke="#f64ed6" stroke-width="2.8" fill="none" stroke-linejoin="round"/>
<rect x="96.95" y="33.60" width="8.5" height="15.40" fill="#f64ed6"/><rect x="90.90" y="29.50" width="20.6" height="8.2" rx="4.1" fill="#f64ed6"/>
<rect x="236.65" y="323.30" width="8.5" height="9.90" fill="#f64ed6"/><rect x="230.60" y="319.20" width="20.6" height="8.2" rx="4.1" fill="#f64ed6"/>
<rect x="267.15" y="394.70" width="8.5" height="8.30" fill="#f64ed6"/><rect x="261.10" y="390.60" width="20.6" height="8.2" rx="4.1" fill="#f64ed6"/>
<polygon points="101.20,42.40 102.79,46.72 107.38,46.89 103.77,49.73 105.02,54.16 101.20,51.60 97.38,54.16 98.63,49.73 95.02,46.89 99.61,46.72" fill="#f64ed6"/>
<polygon points="213.80,251.70 215.39,256.02 219.98,256.19 216.37,259.03 217.62,263.46 213.80,260.90 209.98,263.46 211.23,259.03 207.62,256.19 212.21,256.02" fill="#f64ed6"/>
<polygon points="240.90,326.60 242.49,330.92 247.08,331.09 243.47,333.93 244.72,338.36 240.90,335.80 237.08,338.36 238.33,333.93 234.72,331.09 239.31,330.92" fill="#f64ed6"/>
<polygon points="271.40,396.40 272.99,400.72 277.58,400.89 273.97,403.73 275.22,408.16 271.40,405.60 267.58,408.16 268.83,403.73 265.22,400.89 269.81,400.72" fill="#f64ed6"/>
<polygon points="300.70,564.30 302.29,568.62 306.88,568.79 303.27,571.63 304.52,576.06 300.70,573.50 296.88,576.06 298.13,571.63 294.52,568.79 299.11,568.62" fill="#f64ed6"/>
<polygon points="330.70,564.30 332.29,568.62 336.88,568.79 333.27,571.63 334.52,576.06 330.70,573.50 326.88,576.06 328.13,571.63 324.52,568.79 329.11,568.62" fill="#f64ed6"/>
<polygon points="360.70,564.30 362.29,568.62 366.88,568.79 363.27,571.63 364.52,576.06 360.70,573.50 356.88,576.06 358.13,571.63 354.52,568.79 359.11,568.62" fill="#f64ed6"/>
<polygon points="390.70,564.30 392.29,568.62 396.88,568.79 393.27,571.63 394.52,576.06 390.70,573.50 386.88,576.06 388.13,571.63 384.52,568.79 389.11,568.62" fill="#f64ed6"/>
<polygon points="420.70,564.30 422.29,568.62 426.88,568.79 423.27,571.63 424.52,576.06 420.70,573.50 416.88,576.06 418.13,571.63 414.52,568.79 419.11,568.62" fill="#f64ed6"/>
<polygon points="450.70,564.30 452.29,568.62 456.88,568.79 453.27,571.63 454.52,576.06 450.70,573.50 446.88,576.06 448.13,571.63 444.52,568.79 449.11,568.62" fill="#f64ed6"/>
<polygon points="480.70,564.30 482.29,568.62 486.88,568.79 483.27,571.63 484.52,576.06 480.70,573.50 476.88,576.06 478.13,571.63 474.52,568.79 479.11,568.62" fill="#f64ed6"/>
<polygon points="510.70,564.30 512.29,568.62 516.88,568.79 513.27,571.63 514.52,576.06 510.70,573.50 506.88,576.06 508.13,571.63 504.52,568.79 509.11,568.62" fill="#f64ed6"/>
<polygon points="540.70,564.30 542.29,568.62 546.88,568.79 543.27,571.63 544.52,576.06 540.70,573.50 536.88,576.06 538.13,571.63 534.52,568.79 539.11,568.62" fill="#f64ed6"/>
<polygon points="570.70,564.30 572.29,568.62 576.88,568.79 573.27,571.63 574.52,576.06 570.70,573.50 566.88,576.06 568.13,571.63 564.52,568.79 569.11,568.62" fill="#f64ed6"/>
<polygon points="600.70,564.30 602.29,568.62 606.88,568.79 603.27,571.63 604.52,576.06 600.70,573.50 596.88,576.06 598.13,571.63 594.52,568.79 599.11,568.62" fill="#f64ed6"/>
<polygon points="630.70,564.30 632.29,568.62 636.88,568.79 633.27,571.63 634.52,576.06 630.70,573.50 626.88,576.06 628.13,571.63 624.52,568.79 629.11,568.62" fill="#f64ed6"/>
<polygon points="660.70,564.30 662.29,568.62 666.88,568.79 663.27,571.63 664.52,576.06 660.70,573.50 656.88,576.06 658.13,571.63 654.52,568.79 659.11,568.62" fill="#f64ed6"/>
</g>
<g clip-path="url(#clipM)">
<path d="M101.20,49.00 L213.80,258.30 L240.90,333.20 L271.40,403.00 L300.70,570.90 L330.70,570.90 L360.70,570.90 L390.70,570.90 L420.70,570.90 L450.70,570.90 L480.70,570.90 L510.70,570.90 L540.70,570.90 L570.70,570.90 L600.70,570.90 L630.70,570.90 L660.70,570.90" stroke="#f64ed6" stroke-width="2.8" fill="none" stroke-linejoin="round"/>
<rect x="96.95" y="33.60" width="8.5" height="15.40" fill="#f64ed6"/><rect x="90.90" y="29.50" width="20.6" height="8.2" rx="4.1" fill="#f64ed6"/>
<rect x="236.65" y="323.30" width="8.5" height="9.90" fill="#f64ed6"/><rect x="230.60" y="319.20" width="20.6" height="8.2" rx="4.1" fill="#f64ed6"/>
<rect x="267.15" y="394.70" width="8.5" height="8.30" fill="#f64ed6"/><rect x="261.10" y="390.60" width="20.6" height="8.2" rx="4.1" fill="#f64ed6"/>
<polygon points="101.20,42.40 102.79,46.72 107.38,46.89 103.77,49.73 105.02,54.16 101.20,51.60 97.38,54.16 98.63,49.73 95.02,46.89 99.61,46.72" fill="#f64ed6"/>
<polygon points="213.80,251.70 215.39,256.02 219.98,256.19 216.37,259.03 217.62,263.46 213.80,260.90 209.98,263.46 211.23,259.03 207.62,256.19 212.21,256.02" fill="#f64ed6"/>
<polygon points="240.90,326.60 242.49,330.92 247.08,331.09 243.47,333.93 244.72,338.36 240.90,335.80 237.08,338.36 238.33,333.93 234.72,331.09 239.31,330.92" fill="#f64ed6"/>
<polygon points="271.40,396.40 272.99,400.72 277.58,400.89 273.97,403.73 275.22,408.16 271.40,405.60 267.58,408.16 268.83,403.73 265.22,400.89 269.81,400.72" fill="#f64ed6"/>
<polygon points="300.70,564.30 302.29,568.62 306.88,568.79 303.27,571.63 304.52,576.06 300.70,573.50 296.88,576.06 298.13,571.63 294.52,568.79 299.11,568.62" fill="#f64ed6"/>
<polygon points="330.70,564.30 332.29,568.62 336.88,568.79 333.27,571.63 334.52,576.06 330.70,573.50 326.88,576.06 328.13,571.63 324.52,568.79 329.11,568.62" fill="#f64ed6"/>
<polygon points="360.70,564.30 362.29,568.62 366.88,568.79 363.27,571.63 364.52,576.06 360.70,573.50 356.88,576.06 358.13,571.63 354.52,568.79 359.11,568.62" fill="#f64ed6"/>
<polygon points="390.70,564.30 392.29,568.62 396.88,568.79 393.27,571.63 394.52,576.06 390.70,573.50 386.88,576.06 388.13,571.63 384.52,568.79 389.11,568.62" fill="#f64ed6"/>
<polygon points="420.70,564.30 422.29,568.62 426.88,568.79 423.27,571.63 424.52,576.06 420.70,573.50 416.88,576.06 418.13,571.63 414.52,568.79 419.11,568.62" fill="#f64ed6"/>
<polygon points="450.70,564.30 452.29,568.62 456.88,568.79 453.27,571.63 454.52,576.06 450.70,573.50 446.88,576.06 448.13,571.63 444.52,568.79 449.11,568.62" fill="#f64ed6"/>
<polygon points="480.70,564.30 482.29,568.62 486.88,568.79 483.27,571.63 484.52,576.06 480.70,573.50 476.88,576.06 478.13,571.63 474.52,568.79 479.11,568.62" fill="#f64ed6"/>
<polygon points="510.70,564.30 512.29,568.62 516.88,568.79 513.27,571.63 514.52,576.06 510.70,573.50 506.88,576.06 508.13,571.63 504.52,568.79 509.11,568.62" fill="#f64ed6"/>
<polygon points="540.70,564.30 542.29,568.62 546.88,568.79 543.27,571.63 544.52,576.06 540.70,573.50 536.88,576.06 538.13,571.63 534.52,568.79 539.11,568.62" fill="#f64ed6"/>
<polygon points="570.70,564.30 572.29,568.62 576.88,568.79 573.27,571.63 574.52,576.06 570.70,573.50 566.88,576.06 568.13,571.63 564.52,568.79 569.11,568.62" fill="#f64ed6"/>
<polygon points="600.70,564.30 602.29,568.62 606.88,568.79 603.27,571.63 604.52,576.06 600.70,573.50 596.88,576.06 598.13,571.63 594.52,568.79 599.11,568.62" fill="#f64ed6"/>
<polygon points="630.70,564.30 632.29,568.62 636.88,568.79 633.27,571.63 634.52,576.06 630.70,573.50 626.88,576.06 628.13,571.63 624.52,568.79 629.11,568.62" fill="#f64ed6"/>
<polygon points="660.70,564.30 662.29,568.62 666.88,568.79 663.27,571.63 664.52,576.06 660.70,573.50 656.88,576.06 658.13,571.63 654.52,568.79 659.11,568.62" fill="#f64ed6"/>
</g>
<g clip-path="url(#clipB)">
<path d="M101.20,49.00 L213.80,258.30 L240.90,333.20 L271.40,403.00 L300.70,570.90 L330.70,570.90 L360.70,570.90 L390.70,570.90 L420.70,570.90 L450.70,570.90 L480.70,570.90 L510.70,570.90 L540.70,570.90 L570.70,570.90 L600.70,570.90 L630.70,570.90 L660.70,570.90" stroke="#f64ed6" stroke-width="2.8" fill="none" stroke-linejoin="round"/>
<rect x="96.95" y="33.60" width="8.5" height="15.40" fill="#f64ed6"/><rect x="90.90" y="29.50" width="20.6" height="8.2" rx="4.1" fill="#f64ed6"/>
<rect x="236.65" y="323.30" width="8.5" height="9.90" fill="#f64ed6"/><rect x="230.60" y="319.20" width="20.6" height="8.2" rx="4.1" fill="#f64ed6"/>
<rect x="267.15" y="394.70" width="8.5" height="8.30" fill="#f64ed6"/><rect x="261.10" y="390.60" width="20.6" height="8.2" rx="4.1" fill="#f64ed6"/>
<polygon points="101.20,42.40 102.79,46.72 107.38,46.89 103.77,49.73 105.02,54.16 101.20,51.60 97.38,54.16 98.63,49.73 95.02,46.89 99.61,46.72" fill="#f64ed6"/>
<polygon points="213.80,251.70 215.39,256.02 219.98,256.19 216.37,259.03 217.62,263.46 213.80,260.90 209.98,263.46 211.23,259.03 207.62,256.19 212.21,256.02" fill="#f64ed6"/>
<polygon points="240.90,326.60 242.49,330.92 247.08,331.09 243.47,333.93 244.72,338.36 240.90,335.80 237.08,338.36 238.33,333.93 234.72,331.09 239.31,330.92" fill="#f64ed6"/>
<polygon points="271.40,396.40 272.99,400.72 277.58,400.89 273.97,403.73 275.22,408.16 271.40,405.60 267.58,408.16 268.83,403.73 265.22,400.89 269.81,400.72" fill="#f64ed6"/>
<polygon points="300.70,564.30 302.29,568.62 306.88,568.79 303.27,571.63 304.52,576.06 300.70,573.50 296.88,576.06 298.13,571.63 294.52,568.79 299.11,568.62" fill="#f64ed6"/>
<polygon points="330.70,564.30 332.29,568.62 336.88,568.79 333.27,571.63 334.52,576.06 330.70,573.50 326.88,576.06 328.13,571.63 324.52,568.79 329.11,568.62" fill="#f64ed6"/>
<polygon points="360.70,564.30 362.29,568.62 366.88,568.79 363.27,571.63 364.52,576.06 360.70,573.50 356.88,576.06 358.13,571.63 354.52,568.79 359.11,568.62" fill="#f64ed6"/>
<polygon points="390.70,564.30 392.29,568.62 396.88,568.79 393.27,571.63 394.52,576.06 390.70,573.50 386.88,576.06 388.13,571.63 384.52,568.79 389.11,568.62" fill="#f64ed6"/>
<polygon points="420.70,564.30 422.29,568.62 426.88,568.79 423.27,571.63 424.52,576.06 420.70,573.50 416.88,576.06 418.13,571.63 414.52,568.79 419.11,568.62" fill="#f64ed6"/>
<polygon points="450.70,564.30 452.29,568.62 456.88,568.79 453.27,571.63 454.52,576.06 450.70,573.50 446.88,576.06 448.13,571.63 444.52,568.79 449.11,568.62" fill="#f64ed6"/>
<polygon points="480.70,564.30 482.29,568.62 486.88,568.79 483.27,571.63 484.52,576.06 480.70,573.50 476.88,576.06 478.13,571.63 474.52,568.79 479.11,568.62" fill="#f64ed6"/>
<polygon points="510.70,564.30 512.29,568.62 516.88,568.79 513.27,571.63 514.52,576.06 510.70,573.50 506.88,576.06 508.13,571.63 504.52,568.79 509.11,568.62" fill="#f64ed6"/>
<polygon points="540.70,564.30 542.29,568.62 546.88,568.79 543.27,571.63 544.52,576.06 540.70,573.50 536.88,576.06 538.13,571.63 534.52,568.79 539.11,568.62" fill="#f64ed6"/>
<polygon points="570.70,564.30 572.29,568.62 576.88,568.79 573.27,571.63 574.52,576.06 570.70,573.50 566.88,576.06 568.13,571.63 564.52,568.79 569.11,568.62" fill="#f64ed6"/>
<polygon points="600.70,564.30 602.29,568.62 606.88,568.79 603.27,571.63 604.52,576.06 600.70,573.50 596.88,576.06 598.13,571.63 594.52,568.79 599.11,568.62" fill="#f64ed6"/>
<polygon points="630.70,564.30 632.29,568.62 636.88,568.79 633.27,571.63 634.52,576.06 630.70,573.50 626.88,576.06 628.13,571.63 624.52,568.79 629.11,568.62" fill="#f64ed6"/>
<polygon points="660.70,564.30 662.29,568.62 666.88,568.79 663.27,571.63 664.52,576.06 660.70,573.50 656.88,576.06 658.13,571.63 654.52,568.79 659.11,568.62" fill="#f64ed6"/>
</g>
<g clip-path="url(#clipL)">
<path d="M101.20,17.05 L209.80,17.05 L267.20,240.60 L296.70,395.00 L326.40,414.30 L357.30,570.90 L387.30,570.90 L417.30,570.90 L447.30,570.90 L477.30,570.90 L507.30,570.90 L537.30,570.90 L567.30,570.90 L597.30,570.90 L627.30,570.90 L657.30,570.90" stroke="#ff4040" stroke-width="2.8" fill="none" stroke-linejoin="round"/>
<polygon points="93.60,16.65 99.80,5.15 102.30,9.25 108.80,2.25 102.60,13.75 100.10,9.65" fill="#ff4040"/>
<polygon points="202.20,16.65 208.40,5.15 210.90,9.25 217.40,2.25 211.20,13.75 208.70,9.65" fill="#ff4040"/>
<polygon points="259.60,240.20 265.80,228.70 268.30,232.80 274.80,225.80 268.60,237.30 266.10,233.20" fill="#ff4040"/>
<polygon points="289.10,394.60 295.30,383.10 297.80,387.20 304.30,380.20 298.10,391.70 295.60,387.60" fill="#ff4040"/>
<polygon points="318.80,413.90 325.00,402.40 327.50,406.50 334.00,399.50 327.80,411.00 325.30,406.90" fill="#ff4040"/>
<polygon points="349.70,570.50 355.90,559.00 358.40,563.10 364.90,556.10 358.70,567.60 356.20,563.50" fill="#ff4040"/>
<polygon points="379.70,570.50 385.90,559.00 388.40,563.10 394.90,556.10 388.70,567.60 386.20,563.50" fill="#ff4040"/>
<polygon points="409.70,570.50 415.90,559.00 418.40,563.10 424.90,556.10 418.70,567.60 416.20,563.50" fill="#ff4040"/>
<polygon points="439.70,570.50 445.90,559.00 448.40,563.10 454.90,556.10 448.70,567.60 446.20,563.50" fill="#ff4040"/>
<polygon points="469.70,570.50 475.90,559.00 478.40,563.10 484.90,556.10 478.70,567.60 476.20,563.50" fill="#ff4040"/>
<polygon points="499.70,570.50 505.90,559.00 508.40,563.10 514.90,556.10 508.70,567.60 506.20,563.50" fill="#ff4040"/>
<polygon points="529.70,570.50 535.90,559.00 538.40,563.10 544.90,556.10 538.70,567.60 536.20,563.50" fill="#ff4040"/>
<polygon points="559.70,570.50 565.90,559.00 568.40,563.10 574.90,556.10 568.70,567.60 566.20,563.50" fill="#ff4040"/>
<polygon points="589.70,570.50 595.90,559.00 598.40,563.10 604.90,556.10 598.70,567.60 596.20,563.50" fill="#ff4040"/>
<polygon points="619.70,570.50 625.90,559.00 628.40,563.10 634.90,556.10 628.70,567.60 626.20,563.50" fill="#ff4040"/>
<polygon points="649.70,570.50 655.90,559.00 658.40,563.10 664.90,556.10 658.70,567.60 656.20,563.50" fill="#ff4040"/>
</g>
<g clip-path="url(#clipM)">
<path d="M101.20,17.05 L209.80,17.05 L267.20,240.60 L296.70,395.00 L326.40,414.30 L357.30,570.90 L387.30,570.90 L417.30,570.90 L447.30,570.90 L477.30,570.90 L507.30,570.90 L537.30,570.90 L567.30,570.90 L597.30,570.90 L627.30,570.90 L657.30,570.90" stroke="#ff4040" stroke-width="2.8" fill="none" stroke-linejoin="round"/>
<polygon points="93.60,16.65 99.80,5.15 102.30,9.25 108.80,2.25 102.60,13.75 100.10,9.65" fill="#ff4040"/>
<polygon points="202.20,16.65 208.40,5.15 210.90,9.25 217.40,2.25 211.20,13.75 208.70,9.65" fill="#ff4040"/>
<polygon points="259.60,240.20 265.80,228.70 268.30,232.80 274.80,225.80 268.60,237.30 266.10,233.20" fill="#ff4040"/>
<polygon points="289.10,394.60 295.30,383.10 297.80,387.20 304.30,380.20 298.10,391.70 295.60,387.60" fill="#ff4040"/>
<polygon points="318.80,413.90 325.00,402.40 327.50,406.50 334.00,399.50 327.80,411.00 325.30,406.90" fill="#ff4040"/>
<polygon points="349.70,570.50 355.90,559.00 358.40,563.10 364.90,556.10 358.70,567.60 356.20,563.50" fill="#ff4040"/>
<polygon points="379.70,570.50 385.90,559.00 388.40,563.10 394.90,556.10 388.70,567.60 386.20,563.50" fill="#ff4040"/>
<polygon points="409.70,570.50 415.90,559.00 418.40,563.10 424.90,556.10 418.70,567.60 416.20,563.50" fill="#ff4040"/>
<polygon points="439.70,570.50 445.90,559.00 448.40,563.10 454.90,556.10 448.70,567.60 446.20,563.50" fill="#ff4040"/>
<polygon points="469.70,570.50 475.90,559.00 478.40,563.10 484.90,556.10 478.70,567.60 476.20,563.50" fill="#ff4040"/>
<polygon points="499.70,570.50 505.90,559.00 508.40,563.10 514.90,556.10 508.70,567.60 506.20,563.50" fill="#ff4040"/>
<polygon points="529.70,570.50 535.90,559.00 538.40,563.10 544.90,556.10 538.70,567.60 536.20,563.50" fill="#ff4040"/>
<polygon points="559.70,570.50 565.90,559.00 568.40,563.10 574.90,556.10 568.70,567.60 566.20,563.50" fill="#ff4040"/>
<polygon points="589.70,570.50 595.90,559.00 598.40,563.10 604.90,556.10 598.70,567.60 596.20,563.50" fill="#ff4040"/>
<polygon points="619.70,570.50 625.90,559.00 628.40,563.10 634.90,556.10 628.70,567.60 626.20,563.50" fill="#ff4040"/>
<polygon points="649.70,570.50 655.90,559.00 658.40,563.10 664.90,556.10 658.70,567.60 656.20,563.50" fill="#ff4040"/>
</g>
<g clip-path="url(#clipB)">
<path d="M101.20,17.05 L209.80,17.05 L267.20,240.60 L296.70,395.00 L326.40,414.30 L357.30,570.90 L387.30,570.90 L417.30,570.90 L447.30,570.90 L477.30,570.90 L507.30,570.90 L537.30,570.90 L567.30,570.90 L597.30,570.90 L627.30,570.90 L657.30,570.90" stroke="#ff4040" stroke-width="2.8" fill="none" stroke-linejoin="round"/>
<polygon points="93.60,16.65 99.80,5.15 102.30,9.25 108.80,2.25 102.60,13.75 100.10,9.65" fill="#ff4040"/>
<polygon points="202.20,16.65 208.40,5.15 210.90,9.25 217.40,2.25 211.20,13.75 208.70,9.65" fill="#ff4040"/>
<polygon points="259.60,240.20 265.80,228.70 268.30,232.80 274.80,225.80 268.60,237.30 266.10,233.20" fill="#ff4040"/>
<polygon points="289.10,394.60 295.30,383.10 297.80,387.20 304.30,380.20 298.10,391.70 295.60,387.60" fill="#ff4040"/>
<polygon points="318.80,413.90 325.00,402.40 327.50,406.50 334.00,399.50 327.80,411.00 325.30,406.90" fill="#ff4040"/>
<polygon points="349.70,570.50 355.90,559.00 358.40,563.10 364.90,556.10 358.70,567.60 356.20,563.50" fill="#ff4040"/>
<polygon points="379.70,570.50 385.90,559.00 388.40,563.10 394.90,556.10 388.70,567.60 386.20,563.50" fill="#ff4040"/>
<polygon points="409.70,570.50 415.90,559.00 418.40,563.10 424.90,556.10 418.70,567.60 416.20,563.50" fill="#ff4040"/>
<polygon points="439.70,570.50 445.90,559.00 448.40,563.10 454.90,556.10 448.70,567.60 446.20,563.50" fill="#ff4040"/>
<polygon points="469.70,570.50 475.90,559.00 478.40,563.10 484.90,556.10 478.70,567.60 476.20,563.50" fill="#ff4040"/>
<polygon points="499.70,570.50 505.90,559.00 508.40,563.10 514.90,556.10 508.70,567.60 506.20,563.50" fill="#ff4040"/>
<polygon points="529.70,570.50 535.90,559.00 538.40,563.10 544.90,556.10 538.70,567.60 536.20,563.50" fill="#ff4040"/>
<polygon points="559.70,570.50 565.90,559.00 568.40,563.10 574.90,556.10 568.70,567.60 566.20,563.50" fill="#ff4040"/>
<polygon points="589.70,570.50 595.90,559.00 598.40,563.10 604.90,556.10 598.70,567.60 596.20,563.50" fill="#ff4040"/>
<polygon points="619.70,570.50 625.90,559.00 628.40,563.10 634.90,556.10 628.70,567.60 626.20,563.50" fill="#ff4040"/>
<polygon points="649.70,570.50 655.90,559.00 658.40,563.10 664.90,556.10 658.70,567.60 656.20,563.50" fill="#ff4040"/>
</g>
<g clip-path="url(#clipL)">
<path d="M101.10,17.05 L237.90,17.05 L267.50,17.05 L327.40,224.80 L357.30,273.60 L386.70,319.10 L417.20,570.90 L447.20,570.90 L477.20,570.90 L507.20,570.90 L537.20,570.90 L567.20,570.90 L597.20,570.90 L627.20,570.90 L657.20,570.90" stroke="#000080" stroke-width="3.0" fill="none" stroke-linejoin="round"/>
<circle cx="101.1" cy="17.1" r="4.5" fill="#ffff00" stroke="#000080" stroke-width="3.2"/>
<circle cx="237.9" cy="17.1" r="4.5" fill="#ffff00" stroke="#000080" stroke-width="3.2"/>
<circle cx="267.5" cy="17.1" r="4.5" fill="#ffff00" stroke="#000080" stroke-width="3.2"/>
<circle cx="327.4" cy="224.8" r="4.5" fill="#ffff00" stroke="#000080" stroke-width="3.2"/>
<circle cx="357.3" cy="273.6" r="4.5" fill="#ffff00" stroke="#000080" stroke-width="3.2"/>
<circle cx="386.7" cy="319.1" r="4.5" fill="#ffff00" stroke="#000080" stroke-width="3.2"/>
<circle cx="417.2" cy="570.9" r="4.5" fill="#ffff00" stroke="#000080" stroke-width="3.2"/>
<circle cx="447.2" cy="570.9" r="4.5" fill="#ffff00" stroke="#000080" stroke-width="3.2"/>
<circle cx="477.2" cy="570.9" r="4.5" fill="#ffff00" stroke="#000080" stroke-width="3.2"/>
<circle cx="507.2" cy="570.9" r="4.5" fill="#ffff00" stroke="#000080" stroke-width="3.2"/>
<circle cx="537.2" cy="570.9" r="4.5" fill="#ffff00" stroke="#000080" stroke-width="3.2"/>
<circle cx="567.2" cy="570.9" r="4.5" fill="#ffff00" stroke="#000080" stroke-width="3.2"/>
<circle cx="597.2" cy="570.9" r="4.5" fill="#ffff00" stroke="#000080" stroke-width="3.2"/>
<circle cx="627.2" cy="570.9" r="4.5" fill="#ffff00" stroke="#000080" stroke-width="3.2"/>
<circle cx="657.2" cy="570.9" r="4.5" fill="#ffff00" stroke="#000080" stroke-width="3.2"/>
</g>
<g clip-path="url(#clipM)">
<path d="M101.10,17.05 L237.90,17.05 L267.50,17.05 L327.40,224.80 L357.30,273.60 L386.70,319.10 L417.20,570.90 L447.20,570.90 L477.20,570.90 L507.20,570.90 L537.20,570.90 L567.20,570.90 L597.20,570.90 L627.20,570.90 L657.20,570.90" stroke="#000080" stroke-width="3.0" fill="none" stroke-linejoin="round"/>
<circle cx="101.1" cy="17.1" r="4.5" fill="#ffff00" stroke="#000080" stroke-width="3.2"/>
<circle cx="237.9" cy="17.1" r="4.5" fill="#ffff00" stroke="#000080" stroke-width="3.2"/>
<circle cx="267.5" cy="17.1" r="4.5" fill="#ffff00" stroke="#000080" stroke-width="3.2"/>
<circle cx="327.4" cy="224.8" r="4.5" fill="#ffff00" stroke="#000080" stroke-width="3.2"/>
<circle cx="357.3" cy="273.6" r="4.5" fill="#ffff00" stroke="#000080" stroke-width="3.2"/>
<circle cx="386.7" cy="319.1" r="4.5" fill="#ffff00" stroke="#000080" stroke-width="3.2"/>
<circle cx="417.2" cy="570.9" r="4.5" fill="#ffff00" stroke="#000080" stroke-width="3.2"/>
<circle cx="447.2" cy="570.9" r="4.5" fill="#ffff00" stroke="#000080" stroke-width="3.2"/>
<circle cx="477.2" cy="570.9" r="4.5" fill="#ffff00" stroke="#000080" stroke-width="3.2"/>
<circle cx="507.2" cy="570.9" r="4.5" fill="#ffff00" stroke="#000080" stroke-width="3.2"/>
<circle cx="537.2" cy="570.9" r="4.5" fill="#ffff00" stroke="#000080" stroke-width="3.2"/>
<circle cx="567.2" cy="570.9" r="4.5" fill="#ffff00" stroke="#000080" stroke-width="3.2"/>
<circle cx="597.2" cy="570.9" r="4.5" fill="#ffff00" stroke="#000080" stroke-width="3.2"/>
<circle cx="627.2" cy="570.9" r="4.5" fill="#ffff00" stroke="#000080" stroke-width="3.2"/>
<circle cx="657.2" cy="570.9" r="4.5" fill="#ffff00" stroke="#000080" stroke-width="3.2"/>
</g>
<g clip-path="url(#clipB)">
<path d="M101.10,17.05 L237.90,17.05 L267.50,17.05 L327.40,224.80 L357.30,273.60 L386.70,319.10 L417.20,570.90 L447.20,570.90 L477.20,570.90 L507.20,570.90 L537.20,570.90 L567.20,570.90 L597.20,570.90 L627.20,570.90 L657.20,570.90" stroke="#000080" stroke-width="3.0" fill="none" stroke-linejoin="round"/>
<circle cx="101.1" cy="17.1" r="4.5" fill="#ffff00" stroke="#000080" stroke-width="3.2"/>
<circle cx="237.9" cy="17.1" r="4.5" fill="#ffff00" stroke="#000080" stroke-width="3.2"/>
<circle cx="267.5" cy="17.1" r="4.5" fill="#ffff00" stroke="#000080" stroke-width="3.2"/>
<circle cx="327.4" cy="224.8" r="4.5" fill="#ffff00" stroke="#000080" stroke-width="3.2"/>
<circle cx="357.3" cy="273.6" r="4.5" fill="#ffff00" stroke="#000080" stroke-width="3.2"/>
<circle cx="386.7" cy="319.1" r="4.5" fill="#ffff00" stroke="#000080" stroke-width="3.2"/>
<circle cx="417.2" cy="570.9" r="4.5" fill="#ffff00" stroke="#000080" stroke-width="3.2"/>
<circle cx="447.2" cy="570.9" r="4.5" fill="#ffff00" stroke="#000080" stroke-width="3.2"/>
<circle cx="477.2" cy="570.9" r="4.5" fill="#ffff00" stroke="#000080" stroke-width="3.2"/>
<circle cx="507.2" cy="570.9" r="4.5" fill="#ffff00" stroke="#000080" stroke-width="3.2"/>
<circle cx="537.2" cy="570.9" r="4.5" fill="#ffff00" stroke="#000080" stroke-width="3.2"/>
<circle cx="567.2" cy="570.9" r="4.5" fill="#ffff00" stroke="#000080" stroke-width="3.2"/>
<circle cx="597.2" cy="570.9" r="4.5" fill="#ffff00" stroke="#000080" stroke-width="3.2"/>
<circle cx="627.2" cy="570.9" r="4.5" fill="#ffff00" stroke="#000080" stroke-width="3.2"/>
<circle cx="657.2" cy="570.9" r="4.5" fill="#ffff00" stroke="#000080" stroke-width="3.2"/>
</g>
<g clip-path="url(#clipL)">
<path d="M101.00,48.90 L235.80,48.70 L265.00,48.70 L295.40,48.70 L384.60,209.50 L414.90,218.00 L445.20,233.90 L474.80,245.80 L504.20,264.20 L534.50,270.90 L565.50,267.90 L595.20,267.30 L625.50,253.30 L655.20,250.30" stroke="#007691" stroke-width="2.4" fill="none" stroke-linejoin="round"/>
<polygon points="107.10,48.90 104.05,54.18 97.95,54.18 94.90,48.90 97.95,43.62 104.05,43.62" fill="#1098b4"/>
<polygon points="241.90,48.70 238.85,53.98 232.75,53.98 229.70,48.70 232.75,43.42 238.85,43.42" fill="#1098b4"/>
<polygon points="271.10,48.70 268.05,53.98 261.95,53.98 258.90,48.70 261.95,43.42 268.05,43.42" fill="#1098b4"/>
<polygon points="301.50,48.70 298.45,53.98 292.35,53.98 289.30,48.70 292.35,43.42 298.45,43.42" fill="#1098b4"/>
<polygon points="390.70,209.50 387.65,214.78 381.55,214.78 378.50,209.50 381.55,204.22 387.65,204.22" fill="#1098b4"/>
<polygon points="421.00,218.00 417.95,223.28 411.85,223.28 408.80,218.00 411.85,212.72 417.95,212.72" fill="#1098b4"/>
<polygon points="451.30,233.90 448.25,239.18 442.15,239.18 439.10,233.90 442.15,228.62 448.25,228.62" fill="#1098b4"/>
<polygon points="480.90,245.80 477.85,251.08 471.75,251.08 468.70,245.80 471.75,240.52 477.85,240.52" fill="#1098b4"/>
<polygon points="510.30,264.20 507.25,269.48 501.15,269.48 498.10,264.20 501.15,258.92 507.25,258.92" fill="#1098b4"/>
<polygon points="540.60,270.90 537.55,276.18 531.45,276.18 528.40,270.90 531.45,265.62 537.55,265.62" fill="#1098b4"/>
<polygon points="571.60,267.90 568.55,273.18 562.45,273.18 559.40,267.90 562.45,262.62 568.55,262.62" fill="#1098b4"/>
<polygon points="601.30,267.30 598.25,272.58 592.15,272.58 589.10,267.30 592.15,262.02 598.25,262.02" fill="#1098b4"/>
<polygon points="631.60,253.30 628.55,258.58 622.45,258.58 619.40,253.30 622.45,248.02 628.55,248.02" fill="#1098b4"/>
<polygon points="661.30,250.30 658.25,255.58 652.15,255.58 649.10,250.30 652.15,245.02 658.25,245.02" fill="#1098b4"/>
</g>
<g clip-path="url(#clipM)">
<path d="M101.00,48.90 L235.80,48.70 L265.00,48.70 L295.40,48.70 L384.60,209.50 L414.90,218.00 L445.20,233.90 L474.80,245.80 L504.20,264.20 L534.50,270.90 L565.50,267.90 L595.20,267.30 L625.50,253.30 L655.20,250.30" stroke="#007691" stroke-width="2.4" fill="none" stroke-linejoin="round"/>
<polygon points="107.10,48.90 104.05,54.18 97.95,54.18 94.90,48.90 97.95,43.62 104.05,43.62" fill="#1098b4"/>
<polygon points="241.90,48.70 238.85,53.98 232.75,53.98 229.70,48.70 232.75,43.42 238.85,43.42" fill="#1098b4"/>
<polygon points="271.10,48.70 268.05,53.98 261.95,53.98 258.90,48.70 261.95,43.42 268.05,43.42" fill="#1098b4"/>
<polygon points="301.50,48.70 298.45,53.98 292.35,53.98 289.30,48.70 292.35,43.42 298.45,43.42" fill="#1098b4"/>
<polygon points="390.70,209.50 387.65,214.78 381.55,214.78 378.50,209.50 381.55,204.22 387.65,204.22" fill="#1098b4"/>
<polygon points="421.00,218.00 417.95,223.28 411.85,223.28 408.80,218.00 411.85,212.72 417.95,212.72" fill="#1098b4"/>
<polygon points="451.30,233.90 448.25,239.18 442.15,239.18 439.10,233.90 442.15,228.62 448.25,228.62" fill="#1098b4"/>
<polygon points="480.90,245.80 477.85,251.08 471.75,251.08 468.70,245.80 471.75,240.52 477.85,240.52" fill="#1098b4"/>
<polygon points="510.30,264.20 507.25,269.48 501.15,269.48 498.10,264.20 501.15,258.92 507.25,258.92" fill="#1098b4"/>
<polygon points="540.60,270.90 537.55,276.18 531.45,276.18 528.40,270.90 531.45,265.62 537.55,265.62" fill="#1098b4"/>
<polygon points="571.60,267.90 568.55,273.18 562.45,273.18 559.40,267.90 562.45,262.62 568.55,262.62" fill="#1098b4"/>
<polygon points="601.30,267.30 598.25,272.58 592.15,272.58 589.10,267.30 592.15,262.02 598.25,262.02" fill="#1098b4"/>
<polygon points="631.60,253.30 628.55,258.58 622.45,258.58 619.40,253.30 622.45,248.02 628.55,248.02" fill="#1098b4"/>
<polygon points="661.30,250.30 658.25,255.58 652.15,255.58 649.10,250.30 652.15,245.02 658.25,245.02" fill="#1098b4"/>
</g>
<g clip-path="url(#clipB)">
<path d="M101.00,48.90 L235.80,48.70 L265.00,48.70 L295.40,48.70 L384.60,209.50 L414.90,218.00 L445.20,233.90 L474.80,245.80 L504.20,264.20 L534.50,270.90 L565.50,267.90 L595.20,267.30 L625.50,253.30 L655.20,250.30" stroke="#007691" stroke-width="2.4" fill="none" stroke-linejoin="round"/>
<polygon points="107.10,48.90 104.05,54.18 97.95,54.18 94.90,48.90 97.95,43.62 104.05,43.62" fill="#1098b4"/>
<polygon points="241.90,48.70 238.85,53.98 232.75,53.98 229.70,48.70 232.75,43.42 238.85,43.42" fill="#1098b4"/>
<polygon points="271.10,48.70 268.05,53.98 261.95,53.98 258.90,48.70 261.95,43.42 268.05,43.42" fill="#1098b4"/>
<polygon points="301.50,48.70 298.45,53.98 292.35,53.98 289.30,48.70 292.35,43.42 298.45,43.42" fill="#1098b4"/>
<polygon points="390.70,209.50 387.65,214.78 381.55,214.78 378.50,209.50 381.55,204.22 387.65,204.22" fill="#1098b4"/>
<polygon points="421.00,218.00 417.95,223.28 411.85,223.28 408.80,218.00 411.85,212.72 417.95,212.72" fill="#1098b4"/>
<polygon points="451.30,233.90 448.25,239.18 442.15,239.18 439.10,233.90 442.15,228.62 448.25,228.62" fill="#1098b4"/>
<polygon points="480.90,245.80 477.85,251.08 471.75,251.08 468.70,245.80 471.75,240.52 477.85,240.52" fill="#1098b4"/>
<polygon points="510.30,264.20 507.25,269.48 501.15,269.48 498.10,264.20 501.15,258.92 507.25,258.92" fill="#1098b4"/>
<polygon points="540.60,270.90 537.55,276.18 531.45,276.18 528.40,270.90 531.45,265.62 537.55,265.62" fill="#1098b4"/>
<polygon points="571.60,267.90 568.55,273.18 562.45,273.18 559.40,267.90 562.45,262.62 568.55,262.62" fill="#1098b4"/>
<polygon points="601.30,267.30 598.25,272.58 592.15,272.58 589.10,267.30 592.15,262.02 598.25,262.02" fill="#1098b4"/>
<polygon points="631.60,253.30 628.55,258.58 622.45,258.58 619.40,253.30 622.45,248.02 628.55,248.02" fill="#1098b4"/>
<polygon points="661.30,250.30 658.25,255.58 652.15,255.58 649.10,250.30 652.15,245.02 658.25,245.02" fill="#1098b4"/>
</g>
<g clip-path="url(#clipL)">
<path d="M101.25,8.30 L232.40,8.30 L261.50,8.30 L292.00,8.30 L322.00,8.30 L352.20,21.50 L381.60,93.70 L411.80,220.00 L441.50,235.30 L471.50,274.80 L501.20,282.40 L532.10,354.80 L561.80,310.30 L592.10,295.80 L621.80,240.60 L652.40,28.80" stroke="#800080" stroke-width="2.8" fill="none" stroke-linejoin="round"/>
<rect x="97.20" y="4.25" width="8.1" height="8.1" fill="#ffc080" stroke="#800080" stroke-width="2.6"/>
<rect x="228.35" y="4.25" width="8.1" height="8.1" fill="#ffc080" stroke="#800080" stroke-width="2.6"/>
<rect x="257.45" y="4.25" width="8.1" height="8.1" fill="#ffc080" stroke="#800080" stroke-width="2.6"/>
<rect x="287.95" y="4.25" width="8.1" height="8.1" fill="#ffc080" stroke="#800080" stroke-width="2.6"/>
<rect x="317.95" y="4.25" width="8.1" height="8.1" fill="#ffc080" stroke="#800080" stroke-width="2.6"/>
<rect x="348.15" y="17.45" width="8.1" height="8.1" fill="#ffc080" stroke="#800080" stroke-width="2.6"/>
<rect x="377.55" y="89.65" width="8.1" height="8.1" fill="#ffc080" stroke="#800080" stroke-width="2.6"/>
<rect x="407.75" y="215.95" width="8.1" height="8.1" fill="#ffc080" stroke="#800080" stroke-width="2.6"/>
<rect x="437.45" y="231.25" width="8.1" height="8.1" fill="#ffc080" stroke="#800080" stroke-width="2.6"/>
<rect x="467.45" y="270.75" width="8.1" height="8.1" fill="#ffc080" stroke="#800080" stroke-width="2.6"/>
<rect x="497.15" y="278.35" width="8.1" height="8.1" fill="#ffc080" stroke="#800080" stroke-width="2.6"/>
<rect x="528.05" y="350.75" width="8.1" height="8.1" fill="#ffc080" stroke="#800080" stroke-width="2.6"/>
<rect x="557.75" y="306.25" width="8.1" height="8.1" fill="#ffc080" stroke="#800080" stroke-width="2.6"/>
<rect x="588.05" y="291.75" width="8.1" height="8.1" fill="#ffc080" stroke="#800080" stroke-width="2.6"/>
<rect x="617.75" y="236.55" width="8.1" height="8.1" fill="#ffc080" stroke="#800080" stroke-width="2.6"/>
<rect x="648.35" y="24.75" width="8.1" height="8.1" fill="#ffc080" stroke="#800080" stroke-width="2.6"/>
</g>
<g clip-path="url(#clipM)">
<path d="M101.25,8.30 L232.40,8.30 L261.50,8.30 L292.00,8.30 L322.00,8.30 L352.20,21.50 L381.60,93.70 L411.80,220.00 L441.50,235.30 L471.50,274.80 L501.20,282.40 L532.10,354.80 L561.80,310.30 L592.10,295.80 L621.80,240.60 L652.40,28.80" stroke="#800080" stroke-width="2.8" fill="none" stroke-linejoin="round"/>
<rect x="97.20" y="4.25" width="8.1" height="8.1" fill="#ffc080" stroke="#800080" stroke-width="2.6"/>
<rect x="228.35" y="4.25" width="8.1" height="8.1" fill="#ffc080" stroke="#800080" stroke-width="2.6"/>
<rect x="257.45" y="4.25" width="8.1" height="8.1" fill="#ffc080" stroke="#800080" stroke-width="2.6"/>
<rect x="287.95" y="4.25" width="8.1" height="8.1" fill="#ffc080" stroke="#800080" stroke-width="2.6"/>
<rect x="317.95" y="4.25" width="8.1" height="8.1" fill="#ffc080" stroke="#800080" stroke-width="2.6"/>
<rect x="348.15" y="17.45" width="8.1" height="8.1" fill="#ffc080" stroke="#800080" stroke-width="2.6"/>
<rect x="377.55" y="89.65" width="8.1" height="8.1" fill="#ffc080" stroke="#800080" stroke-width="2.6"/>
<rect x="407.75" y="215.95" width="8.1" height="8.1" fill="#ffc080" stroke="#800080" stroke-width="2.6"/>
<rect x="437.45" y="231.25" width="8.1" height="8.1" fill="#ffc080" stroke="#800080" stroke-width="2.6"/>
<rect x="467.45" y="270.75" width="8.1" height="8.1" fill="#ffc080" stroke="#800080" stroke-width="2.6"/>
<rect x="497.15" y="278.35" width="8.1" height="8.1" fill="#ffc080" stroke="#800080" stroke-width="2.6"/>
<rect x="528.05" y="350.75" width="8.1" height="8.1" fill="#ffc080" stroke="#800080" stroke-width="2.6"/>
<rect x="557.75" y="306.25" width="8.1" height="8.1" fill="#ffc080" stroke="#800080" stroke-width="2.6"/>
<rect x="588.05" y="291.75" width="8.1" height="8.1" fill="#ffc080" stroke="#800080" stroke-width="2.6"/>
<rect x="617.75" y="236.55" width="8.1" height="8.1" fill="#ffc080" stroke="#800080" stroke-width="2.6"/>
<rect x="648.35" y="24.75" width="8.1" height="8.1" fill="#ffc080" stroke="#800080" stroke-width="2.6"/>
</g>
<g clip-path="url(#clipB)">
<path d="M101.25,8.30 L232.40,8.30 L261.50,8.30 L292.00,8.30 L322.00,8.30 L352.20,21.50 L381.60,93.70 L411.80,220.00 L441.50,235.30 L471.50,274.80 L501.20,282.40 L532.10,354.80 L561.80,310.30 L592.10,295.80 L621.80,240.60 L652.40,28.80" stroke="#800080" stroke-width="2.8" fill="none" stroke-linejoin="round"/>
<rect x="97.20" y="4.25" width="8.1" height="8.1" fill="#ffc080" stroke="#800080" stroke-width="2.6"/>
<rect x="228.35" y="4.25" width="8.1" height="8.1" fill="#ffc080" stroke="#800080" stroke-width="2.6"/>
<rect x="257.45" y="4.25" width="8.1" height="8.1" fill="#ffc080" stroke="#800080" stroke-width="2.6"/>
<rect x="287.95" y="4.25" width="8.1" height="8.1" fill="#ffc080" stroke="#800080" stroke-width="2.6"/>
<rect x="317.95" y="4.25" width="8.1" height="8.1" fill="#ffc080" stroke="#800080" stroke-width="2.6"/>
<rect x="348.15" y="17.45" width="8.1" height="8.1" fill="#ffc080" stroke="#800080" stroke-width="2.6"/>
<rect x="377.55" y="89.65" width="8.1" height="8.1" fill="#ffc080" stroke="#800080" stroke-width="2.6"/>
<rect x="407.75" y="215.95" width="8.1" height="8.1" fill="#ffc080" stroke="#800080" stroke-width="2.6"/>
<rect x="437.45" y="231.25" width="8.1" height="8.1" fill="#ffc080" stroke="#800080" stroke-width="2.6"/>
<rect x="467.45" y="270.75" width="8.1" height="8.1" fill="#ffc080" stroke="#800080" stroke-width="2.6"/>
<rect x="497.15" y="278.35" width="8.1" height="8.1" fill="#ffc080" stroke="#800080" stroke-width="2.6"/>
<rect x="528.05" y="350.75" width="8.1" height="8.1" fill="#ffc080" stroke="#800080" stroke-width="2.6"/>
<rect x="557.75" y="306.25" width="8.1" height="8.1" fill="#ffc080" stroke="#800080" stroke-width="2.6"/>
<rect x="588.05" y="291.75" width="8.1" height="8.1" fill="#ffc080" stroke="#800080" stroke-width="2.6"/>
<rect x="617.75" y="236.55" width="8.1" height="8.1" fill="#ffc080" stroke="#800080" stroke-width="2.6"/>
<rect x="648.35" y="24.75" width="8.1" height="8.1" fill="#ffc080" stroke="#800080" stroke-width="2.6"/>
</g>
<path d="M691.2,38.2H736.8" stroke="#00c000" stroke-width="2.9"/>
<circle cx="713.9" cy="38.2" r="6.35" fill="#00c000"/>
<text x="759.9" y="44.1" font-family="Liberation Sans" font-size="16.1" fill="#000" stroke="#000" stroke-width="0.25">HR 1-18, HRNR<tspan font-size="11" dy="4">2656-2677</tspan></text>
<path d="M691.2,76.8H736.8" stroke="#800080" stroke-width="2.8"/>
<rect x="707.55" y="70.45" width="12.7" height="12.7" fill="#c000c0"/>
<text x="759.9" y="82.7" font-family="Liberation Sans" font-size="16.1" fill="#000" stroke="#000" stroke-width="0.25">HR 1-18, L-G / Q-G</text>
<path d="M691.2,115.6H736.8" stroke="#0000ff" stroke-width="2.9"/>
<polygon points="713.90,109.40 720.40,121.80 707.40,121.80" fill="#0000ff"/>
<text x="759.9" y="121.5" textLength="195.3" lengthAdjust="spacingAndGlyphs" font-family="Liberation Sans" font-size="16.1" fill="#000" stroke="#000" stroke-width="0.25">HR 1-18, L-G / Q-G / 6S-6G</text>
<path d="M691.2,152.2H736.8" stroke="#4696fa" stroke-width="2.9"/>
<polygon points="713.90,158.55 720.40,145.85 707.40,145.85" fill="#55a0ff"/>
<text x="759.9" y="158.1" font-family="Liberation Sans" font-size="16.1" fill="#000" stroke="#000" stroke-width="0.25">HR 1-18, G+H</text>
<path d="M691.2,189.0H736.8" stroke="#c000c0" stroke-width="2.6"/>
<polygon points="713.90,181.30 720.90,189.00 713.90,196.70 706.90,189.00" fill="#c000c0"/>
<text x="759.9" y="194.9" font-family="Liberation Sans" font-size="16.1" fill="#000" stroke="#000" stroke-width="0.25">HR 1-18, G+H pH 7.3</text>
<path d="M691.2,226.4H736.8" stroke="#00623a" stroke-width="2.9"/>
<path d="M709.30,223.30L718.50,232.10M709.30,232.10L718.50,223.30" stroke="#109b64" stroke-width="3.1" stroke-linecap="round" fill="none"/>
<text x="759.9" y="232.3" font-family="Liberation Sans" font-size="16.1" fill="#000" stroke="#000" stroke-width="0.25">HR 1-18, 4H-4R</text>
<path d="M691.2,262.8H736.8" stroke="#f64ed6" stroke-width="2.8"/>
<polygon points="713.90,256.20 715.49,260.52 720.08,260.69 716.47,263.53 717.72,267.96 713.90,265.40 710.08,267.96 711.33,263.53 707.72,260.69 712.31,260.52" fill="#f64ed6"/>
<text x="759.9" y="268.7" font-family="Liberation Sans" font-size="16.1" fill="#000" stroke="#000" stroke-width="0.25">HR 1-18, G+R</text>
<path d="M691.2,299.5H736.8" stroke="#ff4040" stroke-width="2.8"/>
<polygon points="706.30,307.50 712.50,296.00 715.00,300.10 721.50,293.10 715.30,304.60 712.80,300.50" fill="#ff4040"/>
<text x="759.9" y="305.4" font-family="Liberation Sans" font-size="16.1" fill="#000" stroke="#000" stroke-width="0.25">HR 1-18, 4H-4R / L-G</text>
<path d="M691.2,336.2H736.8" stroke="#000080" stroke-width="3.0"/>
<circle cx="713.9" cy="336.2" r="4.5" fill="#ffff00" stroke="#000080" stroke-width="3.2"/>
<text x="759.9" y="342.1" textLength="173.4" lengthAdjust="spacingAndGlyphs" font-family="Liberation Sans" font-size="16.1" fill="#000" stroke="#000" stroke-width="0.25">HR 1-18, 4H-4R / 9G-9S</text>
<path d="M691.2,373.0H736.8" stroke="#007691" stroke-width="2.4"/>
<polygon points="720.00,373.00 716.95,378.28 710.85,378.28 707.80,373.00 710.85,367.72 716.95,367.72" fill="#1098b4"/>
<text x="759.9" y="378.9" textLength="93.9" lengthAdjust="spacingAndGlyphs" font-family="Liberation Sans" font-size="16.1" fill="#000" stroke="#000" stroke-width="0.25">HR 1-18, Leu</text>
<path d="M691.2,410.2H736.8" stroke="#800080" stroke-width="2.8"/>
<rect x="709.85" y="406.15" width="8.1" height="8.1" fill="#ffc080" stroke="#800080" stroke-width="2.6"/>
<text x="759.9" y="416.1" font-family="Liberation Sans" font-size="16.1" fill="#000" stroke="#000" stroke-width="0.25">Biotin-HR 1-18</text></svg></body></html>
